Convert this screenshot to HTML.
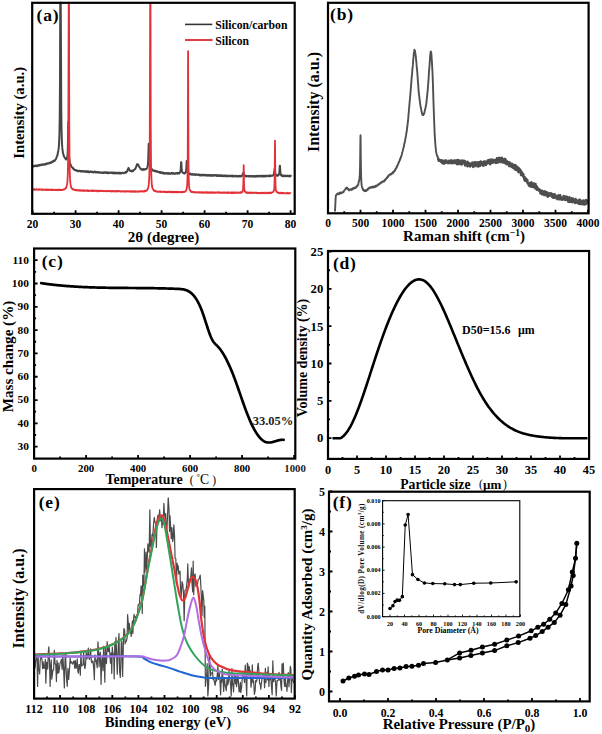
<!DOCTYPE html><html><head><meta charset="utf-8"><style>html,body{margin:0;padding:0;background:#fff;width:602px;height:734px;overflow:hidden;}svg{display:block;}text{font-family:"Liberation Serif",serif;}</style></head><body>
<svg width="602" height="734" viewBox="0 0 602 734">
<rect width="602" height="734" fill="#fff"/>
<path d="M33,166.26 L33.25,166.06 L33.5,166.47 L33.75,165.91 L34,166.28 L34.25,166.08 L34.5,165.76 L34.75,166.13 L35,165.66 L35.25,165.97 L35.5,165.6 L35.75,165.58 L36,165.83 L36.25,166.15 L36.5,165.48 L36.75,165.52 L37,165.84 L37.25,166.09 L37.5,165.71 L37.75,165.5 L38,165.98 L38.25,165.1 L38.5,165.78 L38.75,165.23 L39,165.05 L39.25,164.98 L39.5,165.11 L39.75,165.52 L40,164.91 L40.25,165.22 L40.5,165.23 L40.75,164.94 L41,165.06 L41.25,164.58 L41.5,164.53 L41.75,164.61 L42,164.99 L42.25,164.72 L42.5,164.57 L42.75,164.77 L43,164.6 L43.25,164.42 L43.5,164.82 L43.75,164.68 L44,164.23 L44.25,164.48 L44.5,164.38 L44.75,164.65 L45,164.47 L45.25,164 L45.5,164.56 L45.75,163.71 L46,163.91 L46.25,164.14 L46.5,163.52 L46.75,163.76 L47,163.28 L47.25,163.77 L47.5,163.78 L47.75,163.53 L48,163.73 L48.25,163.15 L48.5,163.41 L48.75,163.25 L49,163.15 L49.25,162.96 L49.5,163.23 L49.75,163.24 L50,162.73 L50.25,162.81 L50.5,162.18 L50.75,162.67 L51,162.53 L51.25,162.75 L51.5,162.5 L51.75,161.91 L52,161.9 L52.25,162.05 L52.5,161.36 L52.75,161.64 L53,161.26 L53.25,161.09 L53.5,160.9 L53.75,161.4 L54,160.68 L54.25,160.63 L54.5,160.6 L54.75,160.85 L55,159.94 L55.25,159.88 L55.5,159.55 L55.75,159.4 L56,158.87 L56.25,158.4 L56.5,157.32 L56.75,156.84 L57,156.12 L57.25,155.83 L57.5,155.03 L57.75,153.29 L58,152.11 L58.25,151 L58.5,149.45 L58.75,147.54 L59,144.54 L59.25,139.48 L59.5,131.24 L59.75,116.34 L60,81.53 L60.25,2.8 L60.43,2.8 L60.5,2.8 L60.55,2.8 L60.67,2.8 L60.75,2.8 L61,54.55 L61.25,106.81 L61.5,127.52 L61.75,137.91 L62,143.74 L62.25,147.17 L62.5,149.79 L62.75,151.42 L63,153.35 L63.25,153.97 L63.5,154.88 L63.75,155.75 L64,156.33 L64.25,157.01 L64.5,157.19 L64.75,157.56 L65,158.06 L65.25,158.32 L65.5,158.81 L65.75,158.7 L66,159.6 L66.25,159.42 L66.5,158.95 L66.75,158.82 L67,158.39 L67.25,157.34 L67.5,154.92 L67.75,150.61 L68,139.11 L68.17,126.61 L68.25,122.94 L68.29,122.11 L68.41,126.64 L68.5,133.5 L68.75,148.59 L69,156.19 L69.25,159 L69.5,160.79 L69.75,162.86 L70,163.37 L70.25,163.73 L70.5,164.67 L70.75,164.72 L71,165.64 L71.25,166.48 L71.5,166.79 L71.75,167.04 L72,167.03 L72.25,167.37 L72.5,167.43 L72.75,168.2 L73,168.21 L73.25,168.65 L73.5,168.47 L73.75,168.59 L74,169.33 L74.25,169.69 L74.5,169.78 L74.75,169.95 L75,170.16 L75.25,170.3 L75.5,170.04 L75.75,170.5 L76,170.55 L76.25,170.29 L76.5,170.31 L76.75,170.57 L77,170.57 L77.25,170.99 L77.5,171.25 L77.75,170.81 L78,171.28 L78.25,171.35 L78.5,171.34 L78.75,170.83 L79,170.72 L79.25,170.75 L79.5,170.74 L79.75,170.77 L80,171.17 L80.25,171.44 L80.5,171.41 L80.75,171.1 L81,171.28 L81.25,171.43 L81.5,170.81 L81.75,171.34 L82,171.59 L82.25,171.49 L82.5,171.48 L82.75,171.26 L83,171 L83.25,171.57 L83.5,171.18 L83.75,171.62 L84,171.79 L84.25,171.29 L84.5,171.31 L84.75,171.82 L85,171.64 L85.25,171.16 L85.5,171.14 L85.75,171.18 L86,171.87 L86.25,171.8 L86.5,171.23 L86.75,171.86 L87,172.01 L87.25,171.74 L87.5,171.48 L87.75,171.68 L88,171.32 L88.25,171.23 L88.5,172.11 L88.75,171.83 L89,171.74 L89.25,172.12 L89.5,171.69 L89.75,172.1 L90,172.08 L90.25,171.54 L90.5,171.59 L90.75,171.65 L91,171.62 L91.25,171.94 L91.5,171.67 L91.75,171.83 L92,171.58 L92.25,172.3 L92.5,171.82 L92.75,171.93 L93,172.06 L93.25,172.36 L93.5,171.94 L93.75,172.41 L94,172.05 L94.25,172.09 L94.5,172.1 L94.75,171.66 L95,172.06 L95.25,171.84 L95.5,171.7 L95.75,172.43 L96,171.88 L96.25,172.17 L96.5,172.41 L96.75,172.27 L97,172.08 L97.25,172.27 L97.5,172.32 L97.75,172.54 L98,171.95 L98.25,172.37 L98.5,172.11 L98.75,172.15 L99,172.61 L99.25,172.39 L99.5,172.45 L99.75,172.65 L100,172.8 L100.25,172.39 L100.5,172.55 L100.75,172.47 L101,172.48 L101.25,172.65 L101.5,172.45 L101.75,172.53 L102,172.49 L102.25,172.92 L102.5,172.71 L102.75,172.88 L103,172.95 L103.25,172.34 L103.5,172.62 L103.75,172.98 L104,172.9 L104.25,172.27 L104.5,172.27 L104.75,172.57 L105,172.24 L105.25,172.4 L105.5,172.26 L105.75,172.81 L106,172.92 L106.25,173.03 L106.5,172.37 L106.75,172.89 L107,172.85 L107.25,172.39 L107.5,173.07 L107.75,173.15 L108,172.49 L108.25,173.16 L108.5,172.67 L108.75,172.76 L109,173.22 L109.25,173.09 L109.5,172.49 L109.75,172.75 L110,172.83 L110.25,172.68 L110.5,172.56 L110.75,172.68 L111,173.05 L111.25,172.43 L111.5,172.92 L111.75,172.83 L112,172.45 L112.25,172.75 L112.5,173.02 L112.75,172.93 L113,172.53 L113.25,173.37 L113.5,173.2 L113.75,173.37 L114,172.6 L114.25,172.75 L114.5,172.56 L114.75,173.23 L115,172.78 L115.25,172.66 L115.5,172.93 L115.75,173.38 L116,173.31 L116.25,172.81 L116.5,172.72 L116.75,173.42 L117,173.11 L117.25,173.24 L117.5,172.69 L117.75,172.67 L118,173.24 L118.25,173.01 L118.5,172.7 L118.75,173.49 L119,173.22 L119.25,173.37 L119.5,172.73 L119.75,173.43 L120,172.72 L120.25,173.44 L120.5,173.08 L120.75,172.98 L121,173.17 L121.25,173.51 L121.5,172.91 L121.75,172.79 L122,173.14 L122.25,172.88 L122.5,172.76 L122.75,172.8 L123,172.69 L123.25,172.82 L123.5,172.91 L123.75,172.88 L124,173.27 L124.25,172.83 L124.5,172.99 L124.75,172.66 L125,172.77 L125.25,172.37 L125.5,172.46 L125.75,172.12 L126,172.61 L126.25,172.26 L126.5,171.71 L126.75,171.69 L127,171.75 L127.25,170.56 L127.5,170.64 L127.75,169.62 L128,168.95 L128.25,168.64 L128.5,167.97 L128.75,168.26 L129,168.94 L129.25,169.82 L129.5,169.79 L129.75,170.66 L130,170.86 L130.25,171.02 L130.5,170.96 L130.75,171 L131,170.79 L131.25,170.87 L131.5,170.82 L131.75,171.39 L132,170.91 L132.25,170.76 L132.5,170.61 L132.75,171.2 L133,171.12 L133.25,170.81 L133.5,170.31 L133.75,170.11 L134,169.96 L134.25,169.89 L134.5,169.37 L134.75,169.33 L135,168.84 L135.25,169.08 L135.5,168.65 L135.75,167.77 L136,166.94 L136.25,166.99 L136.5,165.77 L136.75,165.21 L137,164.36 L137.25,164.33 L137.5,164.24 L137.75,164.32 L138,164.31 L138.25,165.01 L138.5,165.07 L138.75,165.85 L139,166.21 L139.25,166.97 L139.5,167.08 L139.75,167.43 L140,167.99 L140.25,168.2 L140.5,168.74 L140.75,168.87 L141,169.22 L141.25,169.26 L141.5,169.41 L141.75,169.64 L142,169.26 L142.25,169.25 L142.5,169.88 L142.75,169.15 L143,169.68 L143.25,169.61 L143.5,169.06 L143.75,169.76 L144,169.79 L144.25,169.51 L144.5,169.57 L144.75,169.58 L145,168.91 L145.25,169.18 L145.5,169.07 L145.75,169.25 L146,169.09 L146.25,168.94 L146.5,168.52 L146.75,168.53 L147,167.98 L147.25,167.58 L147.5,166.52 L147.75,165.25 L148,163.29 L148.25,159.11 L148.5,149.58 L148.58,146.71 L148.7,143.74 L148.75,144.26 L148.82,146.3 L149,153.98 L149.25,160.55 L149.5,163.08 L149.75,165.3 L150,166.21 L150.25,166.72 L150.5,167.36 L150.75,167.99 L151,167.91 L151.25,168.9 L151.5,168.79 L151.75,168.91 L152,169.33 L152.25,169.96 L152.5,169.67 L152.75,170.31 L153,170.67 L153.25,170.37 L153.5,170.39 L153.75,170.59 L154,170.87 L154.25,171.04 L154.5,170.99 L154.75,171.1 L155,170.67 L155.25,170.81 L155.5,170.99 L155.75,171.5 L156,171.18 L156.25,171.48 L156.5,171.05 L156.75,171.16 L157,171.41 L157.25,171.84 L157.5,171.92 L157.75,171.96 L158,171.68 L158.25,171.94 L158.5,171.95 L158.75,172.01 L159,171.76 L159.25,172.51 L159.5,171.95 L159.75,172.7 L160,172.72 L160.25,171.95 L160.5,172.4 L160.75,172.78 L161,172.97 L161.25,172.56 L161.5,172.45 L161.75,172.45 L162,173.17 L162.25,172.56 L162.5,172.95 L162.75,172.6 L163,173 L163.25,173.44 L163.5,172.75 L163.75,173.42 L164,173.2 L164.25,173.59 L164.5,173.48 L164.75,173.1 L165,173.76 L165.25,173.39 L165.5,172.97 L165.75,172.96 L166,173.4 L166.25,173.36 L166.5,173.23 L166.75,173.09 L167,173.27 L167.25,173.25 L167.5,173.72 L167.75,172.96 L168,173.64 L168.25,173.72 L168.5,173.07 L168.75,173.8 L169,173.61 L169.25,173.78 L169.5,173.23 L169.75,173.3 L170,173.32 L170.25,173.87 L170.5,173.5 L170.75,173.29 L171,173.35 L171.25,173.22 L171.5,173.01 L171.75,173.06 L172,173.72 L172.25,173.22 L172.5,173.81 L172.75,173.19 L173,173.2 L173.25,173.42 L173.5,173.13 L173.75,173.3 L174,173.82 L174.25,173.75 L174.5,173.68 L174.75,173.52 L175,173.77 L175.25,173.79 L175.5,173.43 L175.75,173.58 L176,172.97 L176.25,173.58 L176.5,173.32 L176.75,173.58 L177,173.47 L177.25,173.14 L177.5,172.91 L177.75,173.68 L178,172.94 L178.25,173.22 L178.5,173.06 L178.75,172.97 L179,173.3 L179.25,173.43 L179.5,172.65 L179.75,172.81 L180,172.17 L180.25,171.88 L180.5,170.71 L180.75,168.38 L181,164.26 L181.09,162.73 L181.21,162.36 L181.25,162.13 L181.33,162.76 L181.5,166.55 L181.75,170.09 L182,171.27 L182.25,171.82 L182.5,172.33 L182.75,172.51 L183,172.9 L183.25,172.79 L183.5,173 L183.75,173.06 L184,173.37 L184.25,173.65 L184.5,173.51 L184.75,173.15 L185,173.05 L185.25,172.98 L185.5,172.55 L185.75,172 L186,170.75 L186.25,168.87 L186.5,165.26 L186.63,161.72 L186.75,160.93 L186.75,161.04 L186.88,162.4 L187,164.41 L187.25,168.83 L187.5,171.01 L187.75,172.22 L188,172.84 L188.25,173.65 L188.5,173.79 L188.75,173.97 L189,173.32 L189.25,173.42 L189.5,174.1 L189.75,174.33 L190,174 L190.25,174.15 L190.5,173.66 L190.75,174.05 L191,174.56 L191.25,174.5 L191.5,174.56 L191.75,174.69 L192,174.07 L192.25,173.97 L192.5,174.03 L192.75,174.39 L193,174.56 L193.25,174.81 L193.5,174.64 L193.75,174.59 L194,174.72 L194.25,174.47 L194.5,174.57 L194.75,174.13 L195,174.82 L195.25,174.35 L195.5,174.99 L195.75,174.76 L196,174.47 L196.25,174.34 L196.5,174.47 L196.75,174.83 L197,174.91 L197.25,174.4 L197.5,174.38 L197.75,174.81 L198,174.89 L198.25,174.73 L198.5,174.6 L198.75,174.96 L199,174.45 L199.25,174.73 L199.5,174.89 L199.75,175.36 L200,175.1 L200.25,175.32 L200.5,174.96 L200.75,174.75 L201,174.77 L201.25,175.43 L201.5,175.2 L201.75,174.86 L202,174.61 L202.25,175.05 L202.5,175.21 L202.75,174.99 L203,174.85 L203.25,175.23 L203.5,175.47 L203.75,174.85 L204,174.69 L204.25,174.97 L204.5,175.05 L204.75,175.3 L205,174.87 L205.25,175.42 L205.5,175.37 L205.75,175.17 L206,174.91 L206.25,175.61 L206.5,175.02 L206.75,175.49 L207,174.97 L207.25,174.97 L207.5,175.46 L207.75,175.05 L208,175.65 L208.25,175.25 L208.5,174.98 L208.75,175.02 L209,175.2 L209.25,175.44 L209.5,175.7 L209.75,174.99 L210,175.22 L210.25,175.06 L210.5,175.76 L210.75,175.02 L211,174.94 L211.25,174.96 L211.5,175.27 L211.75,175.73 L212,175.73 L212.25,175.6 L212.5,175.85 L212.75,175.79 L213,175.26 L213.25,175.14 L213.5,175.82 L213.75,175.66 L214,175.03 L214.25,175.6 L214.5,175.36 L214.75,175.36 L215,175.33 L215.25,175.19 L215.5,175.05 L215.75,175.31 L216,175.38 L216.25,175.93 L216.5,175.19 L216.75,175.96 L217,175.29 L217.25,175.43 L217.5,175.86 L217.75,175.86 L218,175.52 L218.25,175.18 L218.5,175.58 L218.75,175.49 L219,175.99 L219.25,175.35 L219.5,175.51 L219.75,176 L220,175.23 L220.25,175.58 L220.5,175.95 L220.75,175.91 L221,175.27 L221.25,175.27 L221.5,175.31 L221.75,176.09 L222,175.5 L222.25,175.95 L222.5,176.09 L222.75,175.6 L223,175.54 L223.25,176.17 L223.5,175.87 L223.75,175.56 L224,175.98 L224.25,175.62 L224.5,175.6 L224.75,175.36 L225,176.04 L225.25,176.2 L225.5,175.95 L225.75,176.24 L226,175.42 L226.25,175.62 L226.5,175.84 L226.75,176.28 L227,176.29 L227.25,175.79 L227.5,175.67 L227.75,175.84 L228,175.91 L228.25,176.3 L228.5,175.64 L228.75,176.21 L229,176.16 L229.25,176.24 L229.5,176.21 L229.75,176.06 L230,175.82 L230.25,175.82 L230.5,175.87 L230.75,176.25 L231,175.63 L231.25,175.74 L231.5,176.25 L231.75,175.8 L232,175.65 L232.25,175.62 L232.5,176.1 L232.75,175.9 L233,176.5 L233.25,176.42 L233.5,176.52 L233.75,175.88 L234,175.72 L234.25,175.74 L234.5,176.11 L234.75,176.3 L235,176.07 L235.25,175.89 L235.5,176.06 L235.75,176.25 L236,176.3 L236.25,176.37 L236.5,176.47 L236.75,176.31 L237,175.82 L237.25,176.47 L237.5,175.98 L237.75,176.23 L238,176.06 L238.25,176.39 L238.5,175.9 L238.75,175.94 L239,175.94 L239.25,175.85 L239.5,176.5 L239.75,176.21 L240,175.97 L240.25,176.01 L240.5,176.52 L240.75,176.05 L241,175.75 L241.25,176.2 L241.5,175.97 L241.75,176.15 L242,175.18 L242.25,175.27 L242.5,175.23 L242.75,174.77 L243,174.22 L243.25,172.82 L243.5,172.76 L243.75,172.85 L244,173.52 L244.25,174.87 L244.5,175.03 L244.75,175.73 L245,175.5 L245.25,176.12 L245.5,175.88 L245.75,175.81 L246,176.35 L246.25,176.55 L246.5,175.84 L246.75,176.31 L247,176.36 L247.25,176.01 L247.5,176.17 L247.75,175.97 L248,176.04 L248.25,176.09 L248.5,176.41 L248.75,176.46 L249,176.06 L249.25,175.89 L249.5,176.17 L249.75,176.49 L250,176.05 L250.25,176.16 L250.5,176.06 L250.75,176.59 L251,176.37 L251.25,175.93 L251.5,175.96 L251.75,176.22 L252,176.36 L252.25,176.44 L252.5,175.94 L252.75,176 L253,176.48 L253.25,176.22 L253.5,176.1 L253.75,176.12 L254,176.69 L254.25,176.11 L254.5,176.34 L254.75,176.14 L255,176.19 L255.25,176.59 L255.5,176.71 L255.75,176.13 L256,175.98 L256.25,176.45 L256.5,175.98 L256.75,175.79 L257,176.59 L257.25,176.16 L257.5,176.51 L257.75,176.13 L258,176.56 L258.25,176.17 L258.5,175.9 L258.75,175.76 L259,176.24 L259.25,176.32 L259.5,176.55 L259.75,175.81 L260,176.28 L260.25,176.05 L260.5,176.17 L260.75,175.84 L261,175.96 L261.25,176.17 L261.5,176.53 L261.75,175.79 L262,176.12 L262.25,176.4 L262.5,176.54 L262.75,175.84 L263,175.78 L263.25,176.51 L263.5,176.53 L263.75,176.08 L264,175.69 L264.25,176.47 L264.5,175.98 L264.75,176.44 L265,176.18 L265.25,176.35 L265.5,175.75 L265.75,176.31 L266,175.79 L266.25,175.95 L266.5,176.34 L266.75,176.32 L267,175.73 L267.25,175.76 L267.5,175.91 L267.75,176.01 L268,175.88 L268.25,175.64 L268.5,175.74 L268.75,176.16 L269,176.31 L269.25,175.53 L269.5,175.99 L269.75,176.15 L270,175.49 L270.25,176.21 L270.5,175.55 L270.75,175.97 L271,175.91 L271.25,175.96 L271.5,175.65 L271.75,175.73 L272,175.84 L272.25,175.66 L272.5,175.81 L272.75,175.54 L273,175.42 L273.25,174.87 L273.5,175.14 L273.75,174.56 L274,173.47 L274.25,172.27 L274.5,169.5 L274.75,168.05 L275,170.38 L275.25,172.93 L275.5,173.8 L275.75,174.44 L276,175.05 L276.25,174.94 L276.5,175.38 L276.75,175.51 L277,175.13 L277.25,175.68 L277.5,175.17 L277.75,175.72 L278,175.69 L278.25,175.34 L278.5,174.74 L278.75,174.83 L279,174.15 L279.25,173.54 L279.5,170.43 L279.75,167.02 L279.77,166.8 L279.89,165.65 L280,166.47 L280.01,166.09 L280.25,170.71 L280.5,172.91 L280.75,174.59 L281,175.19 L281.25,174.87 L281.5,175.65 L281.75,175.92 L282,175.23 L282.25,175.56 L282.5,175.97 L282.75,175.48 L283,176.17 L283.25,175.63 L283.5,176.14 L283.75,175.55 L284,175.89 L284.25,176.27 L284.5,175.64 L284.75,175.7 L285,175.93 L285.25,175.76 L285.5,175.52 L285.75,175.65 L286,175.64 L286.25,176.34 L286.5,176.11 L286.75,176.31 L287,175.66 L287.25,176.21 L287.5,175.61 L287.75,175.99 L288,176.09 L288.25,175.84 L288.5,176.3 L288.75,176.02 L289,176.04 L289.25,176.31 L289.5,175.62 L289.75,176.42 L290,176.09 L290.25,175.88 L290.5,176.24 L290.75,175.76 L291,176.42" fill="none" stroke="#454545" stroke-width="2" stroke-linejoin="round"/>
<path d="M33,189.54 L33.25,189.39 L33.5,189.68 L33.75,189.46 L34,189.28 L34.25,189.68 L34.5,189.2 L34.75,189.75 L35,189.35 L35.25,189.63 L35.5,189.88 L35.75,189.6 L36,189.66 L36.25,189.42 L36.5,189.21 L36.75,189.24 L37,189.33 L37.25,189.66 L37.5,189.53 L37.75,189.6 L38,189.87 L38.25,189.34 L38.5,189.41 L38.75,189.72 L39,189.28 L39.25,189.27 L39.5,189.52 L39.75,189.35 L40,189.53 L40.25,189.45 L40.5,189.7 L40.75,189.71 L41,189.45 L41.25,189.75 L41.5,189.65 L41.75,189.42 L42,189.98 L42.25,189.5 L42.5,189.44 L42.75,189.41 L43,189.79 L43.25,189.96 L43.5,189.9 L43.75,189.64 L44,189.55 L44.25,189.38 L44.5,189.83 L44.75,189.78 L45,189.63 L45.25,189.84 L45.5,189.71 L45.75,190.06 L46,189.92 L46.25,189.59 L46.5,190.05 L46.75,189.45 L47,189.8 L47.25,189.72 L47.5,189.6 L47.75,189.48 L48,189.99 L48.25,189.46 L48.5,189.84 L48.75,190.12 L49,189.56 L49.25,189.61 L49.5,189.9 L49.75,189.83 L50,189.93 L50.25,190.05 L50.5,189.61 L50.75,189.71 L51,189.71 L51.25,189.54 L51.5,190.13 L51.75,190.06 L52,190.01 L52.25,189.52 L52.5,190.11 L52.75,190.05 L53,189.85 L53.25,190.05 L53.5,189.85 L53.75,189.69 L54,189.61 L54.25,189.7 L54.5,189.57 L54.75,189.78 L55,190.07 L55.25,190.04 L55.5,190.15 L55.75,190.05 L56,189.74 L56.25,189.95 L56.5,189.87 L56.75,190.11 L57,189.93 L57.25,189.75 L57.5,190.01 L57.75,190.24 L58,189.71 L58.25,190.18 L58.5,189.57 L58.75,189.74 L59,189.72 L59.25,190.07 L59.5,190.21 L59.75,190.06 L60,189.76 L60.25,190.14 L60.5,189.74 L60.75,189.67 L61,190.13 L61.25,189.92 L61.5,189.95 L61.75,189.91 L62,190.11 L62.25,189.72 L62.5,189.95 L62.75,189.82 L63,189.9 L63.25,189.56 L63.5,189.71 L63.75,189.54 L64,189.28 L64.25,189.13 L64.5,189.32 L64.75,188.82 L65,189.26 L65.25,188.55 L65.5,188.25 L65.75,188.03 L66,188.25 L66.25,187.38 L66.5,186.63 L66.75,185.7 L67,184.51 L67.25,183.18 L67.5,180.3 L67.75,175.47 L68,166.03 L68.25,143.28 L68.5,71.7 L68.69,2.8 L68.75,2.8 L68.81,2.8 L68.93,2.8 L69,2.8 L69.25,122.82 L69.5,158.77 L69.75,172.28 L70,178.15 L70.25,181.81 L70.5,183.94 L70.75,185.32 L71,186.89 L71.25,187.58 L71.5,187.99 L71.75,188.53 L72,188.71 L72.25,188.73 L72.5,188.8 L72.75,188.97 L73,189.57 L73.25,189.31 L73.5,189.49 L73.75,189.65 L74,189.45 L74.25,189.68 L74.5,189.76 L74.75,190.11 L75,189.92 L75.25,189.93 L75.5,190.41 L75.75,190.13 L76,190.4 L76.25,190.27 L76.5,189.88 L76.75,190.17 L77,190.21 L77.25,190.47 L77.5,190.19 L77.75,190.46 L78,190.36 L78.25,190.15 L78.5,190.61 L78.75,190.09 L79,190.61 L79.25,190.17 L79.5,190.07 L79.75,190.22 L80,190.62 L80.25,190.78 L80.5,190.11 L80.75,190.46 L81,190.47 L81.25,190.7 L81.5,190.28 L81.75,190.5 L82,190.41 L82.25,190.76 L82.5,190.36 L82.75,190.85 L83,190.4 L83.25,190.36 L83.5,190.7 L83.75,190.57 L84,190.3 L84.25,190.68 L84.5,190.3 L84.75,190.8 L85,190.74 L85.25,190.81 L85.5,190.71 L85.75,190.52 L86,190.56 L86.25,190.56 L86.5,190.92 L86.75,190.36 L87,190.93 L87.25,190.33 L87.5,190.46 L87.75,190.51 L88,190.96 L88.25,190.69 L88.5,190.61 L88.75,190.97 L89,190.52 L89.25,190.68 L89.5,190.74 L89.75,190.9 L90,190.9 L90.25,190.83 L90.5,190.63 L90.75,190.62 L91,190.51 L91.25,190.99 L91.5,190.87 L91.75,190.93 L92,190.54 L92.25,190.73 L92.5,190.97 L92.75,190.84 L93,190.53 L93.25,190.77 L93.5,191.07 L93.75,190.62 L94,190.59 L94.25,190.68 L94.5,190.96 L94.75,191.06 L95,190.59 L95.25,190.59 L95.5,190.66 L95.75,190.72 L96,190.86 L96.25,190.62 L96.5,190.74 L96.75,190.65 L97,191.2 L97.25,191.03 L97.5,190.6 L97.75,191.21 L98,190.61 L98.25,190.81 L98.5,191.24 L98.75,191.11 L99,191.07 L99.25,190.87 L99.5,190.7 L99.75,191.02 L100,190.65 L100.25,190.73 L100.5,190.86 L100.75,190.61 L101,190.88 L101.25,191.15 L101.5,191.09 L101.75,190.96 L102,191.06 L102.25,190.94 L102.5,190.72 L102.75,191.05 L103,190.92 L103.25,191.16 L103.5,191.28 L103.75,190.95 L104,191.05 L104.25,191.18 L104.5,190.96 L104.75,190.83 L105,191.18 L105.25,191.29 L105.5,191.22 L105.75,191.17 L106,191.29 L106.25,191.17 L106.5,191.15 L106.75,191.02 L107,190.93 L107.25,191.15 L107.5,190.79 L107.75,191.02 L108,191.27 L108.25,191.23 L108.5,191.18 L108.75,190.91 L109,191.04 L109.25,191.07 L109.5,191.19 L109.75,191.04 L110,191.23 L110.25,191.42 L110.5,190.9 L110.75,191.23 L111,191.33 L111.25,191.06 L111.5,191.13 L111.75,191.48 L112,190.83 L112.25,191.18 L112.5,190.92 L112.75,191.36 L113,191.47 L113.25,191.18 L113.5,190.9 L113.75,191.23 L114,191.21 L114.25,191.34 L114.5,191.2 L114.75,191.29 L115,191.43 L115.25,191.22 L115.5,191.15 L115.75,191.53 L116,191.02 L116.25,191.35 L116.5,191.15 L116.75,191.42 L117,190.97 L117.25,191.58 L117.5,191.14 L117.75,190.94 L118,191.1 L118.25,191.19 L118.5,190.92 L118.75,191.21 L119,191.22 L119.25,191.41 L119.5,191.18 L119.75,191.12 L120,191.1 L120.25,191.46 L120.5,191.61 L120.75,191.32 L121,191.11 L121.25,191.52 L121.5,191.24 L121.75,191.12 L122,191.06 L122.25,191.52 L122.5,191.55 L122.75,191.43 L123,191.32 L123.25,191.39 L123.5,191.16 L123.75,191.68 L124,191.25 L124.25,191.46 L124.5,191.59 L124.75,191.59 L125,191.35 L125.25,191.23 L125.5,191.41 L125.75,191.12 L126,191.62 L126.25,191.29 L126.5,191.64 L126.75,191.24 L127,191.32 L127.25,191.23 L127.5,191.36 L127.75,191.19 L128,191.07 L128.25,191.58 L128.5,191.27 L128.75,191.25 L129,191.29 L129.25,191.42 L129.5,191.39 L129.75,191.54 L130,191.56 L130.25,191.35 L130.5,191.75 L130.75,191.7 L131,191.15 L131.25,191.69 L131.5,191.75 L131.75,191.66 L132,191.21 L132.25,191.7 L132.5,191.56 L132.75,191.13 L133,191.13 L133.25,191.79 L133.5,191.59 L133.75,191.3 L134,191.2 L134.25,191.23 L134.5,191.3 L134.75,191.68 L135,191.38 L135.25,191.24 L135.5,191.77 L135.75,191.69 L136,191.25 L136.25,191.76 L136.5,191.56 L136.75,191.68 L137,191.6 L137.25,191.76 L137.5,191.69 L137.75,191.72 L138,191.27 L138.25,191.62 L138.5,191.5 L138.75,191.65 L139,191.43 L139.25,191.74 L139.5,191.51 L139.75,191.3 L140,191.27 L140.25,191.2 L140.5,191.44 L140.75,191.13 L141,191.41 L141.25,191.18 L141.5,191.41 L141.75,191.4 L142,191.42 L142.25,191.63 L142.5,191.02 L142.75,191.59 L143,191.31 L143.25,191.35 L143.5,191.4 L143.75,191.49 L144,191.13 L144.25,191.13 L144.5,191.47 L144.75,190.8 L145,191.14 L145.25,191.08 L145.5,190.58 L145.75,190.9 L146,190.84 L146.25,190.89 L146.5,190.32 L146.75,190.6 L147,190.04 L147.25,189.74 L147.5,189.67 L147.75,188.6 L148,188.45 L148.25,187.52 L148.5,186.09 L148.75,184.62 L149,181.34 L149.25,176.36 L149.5,166.49 L149.75,143.01 L150,64.45 L150.17,2.8 L150.25,2.8 L150.29,2.8 L150.41,2.8 L150.5,2.8 L150.75,127.76 L151,161.02 L151.25,173.92 L151.5,179.97 L151.75,183.6 L152,186.06 L152.25,187.24 L152.5,188.31 L152.75,188.69 L153,189.2 L153.25,189.59 L153.5,190.1 L153.75,190.39 L154,190.69 L154.25,190.34 L154.5,190.95 L154.75,191.18 L155,191.04 L155.25,190.78 L155.5,191.03 L155.75,190.89 L156,191.07 L156.25,191.64 L156.5,191.46 L156.75,191.54 L157,191.66 L157.25,191.78 L157.5,191.6 L157.75,191.63 L158,191.66 L158.25,191.74 L158.5,191.69 L158.75,191.77 L159,191.46 L159.25,191.79 L159.5,191.66 L159.75,191.89 L160,191.44 L160.25,191.51 L160.5,191.42 L160.75,191.95 L161,192.06 L161.25,191.89 L161.5,191.7 L161.75,192.02 L162,192.01 L162.25,191.86 L162.5,191.66 L162.75,191.69 L163,191.79 L163.25,191.72 L163.5,191.81 L163.75,191.96 L164,192.17 L164.25,191.57 L164.5,191.93 L164.75,191.57 L165,191.63 L165.25,192.12 L165.5,191.96 L165.75,192.21 L166,191.88 L166.25,191.59 L166.5,191.85 L166.75,192 L167,192.25 L167.25,192.28 L167.5,191.93 L167.75,191.9 L168,191.68 L168.25,192.07 L168.5,191.77 L168.75,191.73 L169,191.64 L169.25,191.64 L169.5,192.12 L169.75,191.73 L170,192.32 L170.25,191.71 L170.5,192.26 L170.75,191.75 L171,191.68 L171.25,192.17 L171.5,191.84 L171.75,192.19 L172,191.81 L172.25,191.72 L172.5,192.23 L172.75,192.19 L173,192.29 L173.25,192.21 L173.5,191.76 L173.75,192.14 L174,192.2 L174.25,192.03 L174.5,192.36 L174.75,191.89 L175,192.39 L175.25,192.22 L175.5,191.73 L175.75,191.73 L176,192.18 L176.25,192.3 L176.5,191.78 L176.75,191.95 L177,192.24 L177.25,191.85 L177.5,192.33 L177.75,192.07 L178,191.77 L178.25,191.99 L178.5,192.14 L178.75,192.04 L179,192.21 L179.25,191.83 L179.5,192.29 L179.75,191.98 L180,192.17 L180.25,192.16 L180.5,192.01 L180.75,191.98 L181,192.25 L181.25,192.36 L181.5,192.24 L181.75,192.07 L182,191.87 L182.25,191.69 L182.5,192.32 L182.75,192.11 L183,192.17 L183.25,191.8 L183.5,191.96 L183.75,192.18 L184,192.03 L184.25,191.81 L184.5,191.54 L184.75,191.53 L185,191.75 L185.25,191.25 L185.5,191.29 L185.75,190.99 L186,190.88 L186.25,190.36 L186.5,189.33 L186.75,188.09 L187,186.55 L187.25,183.47 L187.5,176.5 L187.75,155.43 L187.97,89.48 L188,74.18 L188.09,51.05 L188.21,89.43 L188.25,108.06 L188.5,164.58 L188.75,179.11 L189,184.98 L189.25,187.58 L189.5,188.97 L189.75,190.04 L190,190.25 L190.25,190.48 L190.5,191.11 L190.75,191.51 L191,191.26 L191.25,191.78 L191.5,192.02 L191.75,191.62 L192,191.95 L192.25,192.06 L192.5,191.96 L192.75,191.83 L193,191.9 L193.25,192.28 L193.5,192.34 L193.75,192.13 L194,191.89 L194.25,192.42 L194.5,192.41 L194.75,192.05 L195,192.31 L195.25,192.55 L195.5,192.55 L195.75,192.31 L196,192.29 L196.25,192.38 L196.5,192.11 L196.75,192.12 L197,192.12 L197.25,192.5 L197.5,192.27 L197.75,192.42 L198,192.31 L198.25,192.4 L198.5,192.15 L198.75,192.08 L199,192.76 L199.25,192.33 L199.5,192.15 L199.75,192.52 L200,192.64 L200.25,192.2 L200.5,192.51 L200.75,192.34 L201,192.46 L201.25,192.12 L201.5,192.13 L201.75,192.81 L202,192.72 L202.25,192.46 L202.5,192.52 L202.75,192.31 L203,192.67 L203.25,192.43 L203.5,192.8 L203.75,192.67 L204,192.71 L204.25,192.82 L204.5,192.32 L204.75,192.18 L205,192.29 L205.25,192.28 L205.5,192.22 L205.75,192.2 L206,192.55 L206.25,192.77 L206.5,192.49 L206.75,192.83 L207,192.81 L207.25,192.22 L207.5,192.6 L207.75,192.46 L208,192.27 L208.25,192.86 L208.5,192.37 L208.75,192.59 L209,192.64 L209.25,192.86 L209.5,192.67 L209.75,192.47 L210,192.52 L210.25,192.32 L210.5,192.88 L210.75,192.9 L211,192.37 L211.25,192.24 L211.5,192.39 L211.75,192.46 L212,192.85 L212.25,192.86 L212.5,192.81 L212.75,192.26 L213,192.78 L213.25,192.73 L213.5,192.69 L213.75,192.92 L214,192.28 L214.25,192.34 L214.5,192.77 L214.75,192.9 L215,192.72 L215.25,192.46 L215.5,192.66 L215.75,192.78 L216,192.33 L216.25,192.48 L216.5,192.44 L216.75,192.35 L217,192.6 L217.25,192.38 L217.5,192.43 L217.75,192.37 L218,192.74 L218.25,192.28 L218.5,192.78 L218.75,192.41 L219,192.3 L219.25,192.93 L219.5,192.44 L219.75,192.94 L220,192.89 L220.25,192.91 L220.5,192.39 L220.75,192.61 L221,192.36 L221.25,192.95 L221.5,192.89 L221.75,192.74 L222,192.62 L222.25,192.54 L222.5,192.88 L222.75,192.64 L223,192.75 L223.25,192.41 L223.5,192.47 L223.75,192.35 L224,192.82 L224.25,192.71 L224.5,192.42 L224.75,192.93 L225,192.51 L225.25,192.61 L225.5,192.44 L225.75,192.52 L226,192.92 L226.25,192.57 L226.5,192.45 L226.75,192.68 L227,192.56 L227.25,192.97 L227.5,192.42 L227.75,193.03 L228,192.39 L228.25,192.97 L228.5,192.82 L228.75,192.5 L229,192.69 L229.25,192.55 L229.5,192.54 L229.75,192.5 L230,192.61 L230.25,193.05 L230.5,193.06 L230.75,193.01 L231,192.43 L231.25,192.57 L231.5,192.99 L231.75,192.41 L232,192.88 L232.25,192.58 L232.5,193.06 L232.75,192.38 L233,192.94 L233.25,192.61 L233.5,192.47 L233.75,192.38 L234,192.96 L234.25,192.75 L234.5,192.51 L234.75,192.68 L235,193.02 L235.25,192.53 L235.5,192.78 L235.75,192.48 L236,192.51 L236.25,192.92 L236.5,192.88 L236.75,192.51 L237,192.43 L237.25,192.43 L237.5,192.8 L237.75,192.71 L238,192.55 L238.25,192.5 L238.5,192.78 L238.75,192.84 L239,192.91 L239.25,192.74 L239.5,192.46 L239.75,192.35 L240,192.8 L240.25,192.55 L240.5,192.74 L240.75,192.24 L241,192.72 L241.25,192.33 L241.5,192.6 L241.75,192.5 L242,192.08 L242.25,191.51 L242.5,191.76 L242.75,190.82 L243,189.85 L243.25,186.4 L243.5,176.37 L243.57,171.76 L243.69,165.23 L243.75,167.16 L243.81,171.44 L244,183.24 L244.25,188.13 L244.5,190.36 L244.75,191.18 L245,191.72 L245.25,191.74 L245.5,192.35 L245.75,192.56 L246,192.7 L246.25,192.39 L246.5,192.72 L246.75,192.53 L247,192.82 L247.25,192.37 L247.5,192.96 L247.75,193.04 L248,192.73 L248.25,192.76 L248.5,192.79 L248.75,192.8 L249,192.45 L249.25,193.12 L249.5,192.61 L249.75,192.59 L250,192.54 L250.25,192.65 L250.5,193.05 L250.75,192.5 L251,192.56 L251.25,192.98 L251.5,192.63 L251.75,192.51 L252,192.93 L252.25,192.91 L252.5,192.88 L252.75,193.01 L253,192.59 L253.25,193.13 L253.5,193.03 L253.75,192.56 L254,192.62 L254.25,192.88 L254.5,192.89 L254.75,192.73 L255,192.63 L255.25,192.83 L255.5,192.64 L255.75,192.96 L256,193.15 L256.25,192.66 L256.5,192.96 L256.75,193.08 L257,192.68 L257.25,193.14 L257.5,193.22 L257.75,192.84 L258,192.86 L258.25,193.16 L258.5,192.94 L258.75,192.85 L259,193.23 L259.25,193.12 L259.5,192.82 L259.75,192.75 L260,192.82 L260.25,192.89 L260.5,193.27 L260.75,193.15 L261,193.23 L261.25,193.16 L261.5,193.19 L261.75,192.63 L262,192.96 L262.25,193.27 L262.5,193.25 L262.75,192.77 L263,192.89 L263.25,193.04 L263.5,192.86 L263.75,192.97 L264,192.65 L264.25,192.91 L264.5,192.96 L264.75,192.62 L265,192.7 L265.25,193.28 L265.5,193.15 L265.75,193.26 L266,193.05 L266.25,193.17 L266.5,193.22 L266.75,193.22 L267,192.62 L267.25,193.05 L267.5,192.78 L267.75,193.07 L268,192.78 L268.25,192.97 L268.5,193.23 L268.75,193.01 L269,192.75 L269.25,192.93 L269.5,192.86 L269.75,193.21 L270,192.74 L270.25,192.74 L270.5,192.96 L270.75,192.57 L271,192.88 L271.25,193.1 L271.5,192.76 L271.75,192.54 L272,192.63 L272.25,192.6 L272.5,192.24 L272.75,192.1 L273,191.94 L273.25,191.81 L273.5,191.54 L273.75,190.92 L274,189.97 L274.25,188.15 L274.5,184.49 L274.75,171.39 L274.87,154.58 L274.99,140.62 L275,140.79 L275.11,154.3 L275.25,173.02 L275.5,184.88 L275.75,188.65 L276,190.33 L276.25,191.11 L276.5,191.53 L276.75,191.83 L277,192.05 L277.25,192.42 L277.5,192.45 L277.75,192.69 L278,192.36 L278.25,192.66 L278.5,193.06 L278.75,192.66 L279,192.92 L279.25,192.9 L279.5,192.78 L279.75,193.29 L280,192.82 L280.25,193.17 L280.5,192.76 L280.75,192.7 L281,193.28 L281.25,192.98 L281.5,192.73 L281.75,192.97 L282,193.01 L282.25,193.22 L282.5,192.79 L282.75,192.88 L283,193.4 L283.25,193.25 L283.5,192.85 L283.75,192.98 L284,192.99 L284.25,193.22 L284.5,193.19 L284.75,193.35 L285,193.34 L285.25,193.13 L285.5,193.29 L285.75,193.29 L286,193.31 L286.25,193.11 L286.5,193.33 L286.75,193.28 L287,193.43 L287.25,192.88 L287.5,193.41 L287.75,192.8 L288,193.34 L288.25,193.21 L288.5,193.16 L288.75,193.48 L289,193.21 L289.25,193.11 L289.5,193.37 L289.75,193.43 L290,193.25 L290.25,193.09 L290.5,193.14 L290.75,193.15 L291,193.34" fill="none" stroke="#e3313a" stroke-width="1.8" stroke-linejoin="round"/>
<rect x="32.2" y="2.8" width="262.5" height="211" fill="none" stroke="#000" stroke-width="2.2"/>
<path d="M32.6,213.8 V210.3 M75.6,213.8 V210.3 M118.6,213.8 V210.3 M161.6,213.8 V210.3 M204.6,213.8 V210.3 M247.6,213.8 V210.3 M290.6,213.8 V210.3 M54.1,213.8 V211.8 M97.1,213.8 V211.8 M140.1,213.8 V211.8 M183.1,213.8 V211.8 M226.1,213.8 V211.8 M269.1,213.8 V211.8 " stroke="#000" stroke-width="1.8" fill="none"/>
<text x="32.6" y="228" font-size="11.5" text-anchor="middle" font-weight="bold" fill="#000">20</text>
<text x="75.6" y="228" font-size="11.5" text-anchor="middle" font-weight="bold" fill="#000">30</text>
<text x="118.6" y="228" font-size="11.5" text-anchor="middle" font-weight="bold" fill="#000">40</text>
<text x="161.6" y="228" font-size="11.5" text-anchor="middle" font-weight="bold" fill="#000">50</text>
<text x="204.6" y="228" font-size="11.5" text-anchor="middle" font-weight="bold" fill="#000">60</text>
<text x="247.6" y="228" font-size="11.5" text-anchor="middle" font-weight="bold" fill="#000">70</text>
<text x="290.6" y="228" font-size="11.5" text-anchor="middle" font-weight="bold" fill="#000">80</text>
<text x="163.5" y="242" font-size="15" text-anchor="middle" font-weight="bold" fill="#000">2θ (degree)</text>
<text x="24.1" y="112.8" font-size="14.7" text-anchor="middle" font-weight="bold" fill="#000" transform="rotate(-90 24.1 112.8)">Intensity (a.u.)</text>
<text x="36.5" y="21.1" font-size="17.5" text-anchor="start" font-weight="bold" fill="#000" letter-spacing="0.8">(a)</text>
<path d="M185,24.4 H212.3" stroke="#333" stroke-width="1.6"/>
<path d="M185,40 H212.6" stroke="#e0353b" stroke-width="1.9"/>
<text x="215.3" y="28.8" font-size="11.7" text-anchor="start" font-weight="bold" fill="#000">Silicon/carbon</text>
<text x="215.3" y="44.5" font-size="11.7" text-anchor="start" font-weight="bold" fill="#000">Silicon</text>
<path d="M335,211.54 L335.22,206.72 L335.44,202.17 L335.66,198.04 L335.88,195.49 L336.1,195.4 L336.32,195.23 L336.54,194.61 L336.76,194.38 L336.98,193.95 L337.2,193.99 L337.42,193.71 L337.64,194.14 L337.86,194.05 L338.08,193.36 L338.3,194.25 L338.52,193.44 L338.74,193.98 L338.96,193.89 L339.18,193.95 L339.4,192.98 L339.62,193.17 L339.84,193.69 L340.06,192.54 L340.28,192.52 L340.5,193.08 L340.72,192.93 L340.94,193.38 L341.16,193.13 L341.38,192.78 L341.6,193.26 L341.82,192.6 L342.04,192.52 L342.26,192.63 L342.48,192.18 L342.7,192.04 L342.92,192.21 L343.14,191.8 L343.36,192.38 L343.58,191.87 L343.8,191.44 L344.02,190.63 L344.24,190.63 L344.46,190.3 L344.68,190.12 L344.9,189.75 L345.12,189.75 L345.34,189.49 L345.56,188.59 L345.78,188.25 L346,188.23 L346.22,188.5 L346.44,187.61 L346.66,187.81 L346.88,188.21 L347.1,187.57 L347.32,187.92 L347.54,188.93 L347.76,188.99 L347.98,188.87 L348.2,188.64 L348.42,189.81 L348.64,189.78 L348.86,190.1 L349.08,190.41 L349.3,190.32 L349.52,189.76 L349.74,189.42 L349.96,189.56 L350.18,189.79 L350.4,189.74 L350.62,189.31 L350.84,189.24 L351.06,189.72 L351.28,189.61 L351.5,189.24 L351.72,189.93 L351.94,189.41 L352.16,188.61 L352.38,188.96 L352.6,189.32 L352.82,188.64 L353.04,189.01 L353.26,188.08 L353.48,188.34 L353.7,188.89 L353.92,188.48 L354.14,188.47 L354.36,187.8 L354.58,188.05 L354.8,188 L355.02,187.53 L355.24,187.86 L355.46,187.59 L355.68,188 L355.9,187.34 L356.12,186.97 L356.34,186.44 L356.56,186.29 L356.78,186.8 L357,185.79 L357.22,185.53 L357.44,185.34 L357.66,185.45 L357.88,185.47 L358.1,184.75 L358.32,184.28 L358.54,182.55 L358.76,181.57 L358.98,181.51 L359.2,179.96 L359.42,179.25 L359.64,176.96 L359.86,173.15 L360.08,165.36 L360.3,148.13 L360.4,139.77 L360.5,135.23 L360.52,135.2 L360.6,139.82 L360.74,153.72 L360.96,169.7 L361.18,178.62 L361.4,182.33 L361.62,185.19 L361.84,186.12 L362.06,187.37 L362.28,187.6 L362.5,187.86 L362.72,189.33 L362.94,189.59 L363.16,189.23 L363.38,190.19 L363.6,190.32 L363.82,189.9 L364.04,190.42 L364.26,190.99 L364.48,190.55 L364.7,191.19 L364.92,190.41 L365.14,190.63 L365.36,191.04 L365.58,190.42 L365.8,190.48 L366.02,191.08 L366.24,190.51 L366.46,190.75 L366.68,189.95 L366.9,189.71 L367.12,189.76 L367.34,189.37 L367.56,190.13 L367.78,189.12 L368,189.25 L368.22,188.52 L368.44,188.83 L368.66,188.48 L368.88,188.32 L369.1,187.76 L369.32,187.68 L369.54,188.4 L369.76,187.72 L369.98,187.51 L370.2,187.37 L370.42,187.41 L370.64,187.29 L370.86,186.98 L371.08,187.68 L371.3,187.24 L371.52,186.96 L371.74,187.57 L371.96,186.79 L372.18,186.96 L372.4,187.59 L372.62,186.7 L372.84,187.03 L373.06,187.46 L373.28,187.37 L373.5,186.55 L373.72,186.73 L373.94,187.12 L374.16,186.65 L374.38,187.29 L374.6,186.33 L374.82,187.15 L375.04,186.54 L375.26,186.13 L375.48,186.31 L375.7,185.83 L375.92,186.41 L376.14,185.77 L376.36,186.42 L376.58,185.92 L376.8,185.53 L377.02,185.25 L377.24,185.54 L377.46,184.92 L377.68,185.57 L377.9,184.52 L378.12,184.84 L378.34,184.72 L378.56,184.24 L378.78,184.69 L379,184.07 L379.22,184.24 L379.44,183.98 L379.66,183.52 L379.88,183.46 L380.1,182.95 L380.32,182.92 L380.54,183.58 L380.76,182.81 L380.98,183.09 L381.2,182.29 L381.42,182.7 L381.64,182.33 L381.86,182.37 L382.08,181.99 L382.3,181.59 L382.52,181.75 L382.74,181.51 L382.96,181.25 L383.18,181.82 L383.4,181.15 L383.62,181.15 L383.84,181.59 L384.06,181.27 L384.28,181.23 L384.5,181.02 L384.72,179.96 L384.94,179.92 L385.16,179.4 L385.38,179.93 L385.6,179.66 L385.82,179.02 L386.04,178.82 L386.26,178.84 L386.48,178.61 L386.7,177.79 L386.92,178.22 L387.14,177.35 L387.36,177.41 L387.58,176.6 L387.8,176.27 L388.02,176.98 L388.24,176.53 L388.46,176.29 L388.68,175.28 L388.9,175.09 L389.12,175.05 L389.34,174.92 L389.56,174.89 L389.78,174.82 L390,174.26 L390.22,174.44 L390.44,174.69 L390.66,173.99 L390.88,174.64 L391.1,174.18 L391.32,174.21 L391.54,173.51 L391.76,173.58 L391.98,173.72 L392.2,173.16 L392.42,172.57 L392.64,173.4 L392.86,173.14 L393.08,172.36 L393.3,171.86 L393.52,172.62 L393.74,172.09 L393.96,171.17 L394.18,171.13 L394.4,170.67 L394.62,171.16 L394.84,170.11 L395.06,170.59 L395.28,170.01 L395.5,168.81 L395.72,169.13 L395.94,168.34 L396.16,168.32 L396.38,167.97 L396.6,166.86 L396.82,166.17 L397.04,166.74 L397.26,165.64 L397.48,165.79 L397.7,165.04 L397.92,164.63 L398.14,164.28 L398.36,163.56 L398.58,162.87 L398.8,161.91 L399.02,162.19 L399.24,161.36 L399.46,160.94 L399.68,160.91 L399.9,159.41 L400.12,159.61 L400.34,158.17 L400.56,158.37 L400.78,157.89 L401,156.6 L401.22,156.29 L401.44,156.12 L401.66,155.02 L401.88,154.17 L402.1,153.05 L402.32,152.04 L402.54,151.58 L402.76,150.8 L402.98,149.68 L403.2,148.92 L403.42,147.8 L403.64,147.54 L403.86,146.54 L404.08,145.04 L404.3,144.04 L404.52,143.34 L404.74,142.2 L404.96,141.7 L405.18,139.88 L405.4,138.66 L405.62,138.16 L405.84,136.02 L406.06,135.24 L406.28,133.61 L406.5,132.79 L406.72,131.01 L406.94,129.74 L407.16,127.41 L407.38,126.25 L407.6,124.27 L407.82,122.09 L408.04,120.33 L408.26,118.18 L408.48,115.02 L408.7,112.85 L408.92,110.51 L409.14,107.85 L409.36,105.17 L409.58,102.92 L409.8,100.3 L410.02,98.4 L410.24,95.61 L410.46,92.71 L410.68,90.34 L410.9,87.79 L411.12,84.88 L411.34,81.84 L411.56,78.93 L411.78,76.11 L412,74.63 L412.22,71.8 L412.44,68.62 L412.66,67.06 L412.88,64.89 L413.1,61.8 L413.32,58.67 L413.54,56.67 L413.76,54.38 L413.98,52.2 L414.2,51.18 L414.42,49.65 L414.64,50.51 L414.86,50.57 L415.08,51.44 L415.3,53.13 L415.52,54.47 L415.74,55.95 L415.96,58.12 L416.18,60.3 L416.4,62.53 L416.62,65.77 L416.84,68.11 L417.06,69.72 L417.28,72.17 L417.5,75.55 L417.72,78.81 L417.94,81.99 L418.16,84.15 L418.38,87.85 L418.6,90.67 L418.82,93.04 L419.04,94.65 L419.26,96.4 L419.48,99.02 L419.7,100.19 L419.92,101.93 L420.14,103.74 L420.36,105.01 L420.58,106.94 L420.8,107.47 L421.02,108.35 L421.24,109.95 L421.46,110.96 L421.68,112.13 L421.9,112.89 L422.12,113.95 L422.34,114.7 L422.56,114.71 L422.78,115.07 L423,114.79 L423.22,114.88 L423.44,114.98 L423.66,114.01 L423.88,114.25 L424.1,113.02 L424.32,112.66 L424.54,112.51 L424.76,110.61 L424.98,109.65 L425.2,109.19 L425.42,107.93 L425.64,107.58 L425.86,105.58 L426.08,105.21 L426.3,103.65 L426.52,101.82 L426.74,99.48 L426.96,97.28 L427.18,95.6 L427.4,93.21 L427.62,90.84 L427.84,88.35 L428.06,85.72 L428.28,82.94 L428.5,79.92 L428.72,76.75 L428.94,72.66 L429.16,69.81 L429.38,67.23 L429.6,64.39 L429.82,60.97 L430.04,57.68 L430.26,54.74 L430.48,52.76 L430.7,51.43 L430.92,51.57 L431.14,52.22 L431.36,53.99 L431.58,56.83 L431.8,60.2 L432.02,63.67 L432.24,68.06 L432.46,71.41 L432.68,76.98 L432.9,83.22 L433.12,90 L433.34,97.63 L433.56,104.83 L433.78,110.41 L434,116.92 L434.22,122.69 L434.44,128.51 L434.66,134.19 L434.88,137.13 L435.1,140.47 L435.32,143.98 L435.54,146.35 L435.76,148.25 L435.98,150.91 L436.2,152.12 L436.42,153.48 L436.64,154.16 L436.86,155.12 L437.08,156.08 L437.3,156.24 L437.52,155.95 L437.74,156.8 L437.96,159.78 L438.18,159.13 L438.4,158.11 L438.62,161.07 L438.84,159.35 L439.06,159.1 L439.28,160.82 L439.5,160.04 L439.72,160.97 L439.94,161.28 L440.16,160.26 L440.38,161.52 L440.6,160.04 L440.82,161.47" fill="none" stroke="#505050" stroke-width="1.9" stroke-linejoin="round"/>
<path d="M440.82,161.47 L441.04,161.8 L441.26,160.14 L441.48,161.32 L441.7,160.24 L441.92,161.54 L442.14,163.03 L442.36,162.01 L442.58,162.6 L442.8,162.78 L443.02,160.62 L443.24,163.63 L443.46,162.73 L443.68,160.64 L443.9,163.12 L444.12,161.63 L444.34,160.88 L444.56,163.56 L444.78,162.21 L445,162.92 L445.22,160.75 L445.44,162.92 L445.66,160.47 L445.88,161.07 L446.1,161.52 L446.32,160.3 L446.54,162.26 L446.76,160.95 L446.98,161.24 L447.2,162.61 L447.42,161.64 L447.64,163.21 L447.86,162.29 L448.08,163.13 L448.3,162.07 L448.52,163.27 L448.74,163.1 L448.96,160.7 L449.18,162.66 L449.4,161.28 L449.62,162.71 L449.84,162.42 L450.06,162.91 L450.28,160.52 L450.5,161.37 L450.72,162.61 L450.94,163.32 L451.16,162.56 L451.38,160.25 L451.6,162.16 L451.82,160.45 L452.04,161.99 L452.26,162.86 L452.48,160.52 L452.7,163.29 L452.92,162.45 L453.14,161.03 L453.36,160.83 L453.58,161.71 L453.8,163.05 L454.02,162.19 L454.24,160.61 L454.46,160.31 L454.68,160.63 L454.9,162.99 L455.12,160.42 L455.34,162.28 L455.56,160.97 L455.78,162.98 L456,161.46 L456.22,160.3 L456.44,163.98 L456.66,162.31 L456.88,163.09 L457.1,163.7 L457.32,164.43 L457.54,159.77 L457.76,161.44 L457.98,160.5 L458.2,162.28 L458.42,164.16 L458.64,163.82 L458.86,160.02 L459.08,160.77 L459.3,163.98 L459.52,163.31 L459.74,161.89 L459.96,162.33 L460.18,160.77 L460.4,164.23 L460.62,161.99 L460.84,164.42 L461.06,163.13 L461.28,160.48 L461.5,161.77 L461.72,161.23 L461.94,164.65 L462.16,163.16 L462.38,160.47 L462.6,161.14 L462.82,162.14 L463.04,162.71 L463.26,163.3 L463.48,162.41 L463.7,162.28 L463.92,160.59 L464.14,163.51 L464.36,162.34 L464.58,160.83 L464.8,163.08 L465.02,165.77 L465.24,161.12 L465.46,161.68 L465.68,164.36 L465.9,162.42 L466.12,162.48 L466.34,163.67 L466.56,162.54 L466.78,164.13 L467,163.98 L467.22,166.18 L467.44,166.41 L467.66,161.68 L467.88,164.36 L468.1,165.46 L468.32,166.02 L468.54,165.57 L468.76,164.91 L468.98,164.96 L469.2,163.65 L469.42,163.28 L469.64,165.88 L469.86,166.3 L470.08,166.66 L470.3,165.41 L470.52,163.54 L470.74,165.86 L470.96,165.76 L471.18,164.62 L471.4,165.27 L471.62,163.85 L471.84,164.85 L472.06,164.13 L472.28,162.4 L472.5,163.78 L472.72,163.71 L472.94,167.03 L473.16,164.49 L473.38,163.91 L473.6,163.28 L473.82,163.22 L474.04,163.79 L474.26,162.7 L474.48,162.05 L474.7,166.35 L474.92,164.25 L475.14,164.19 L475.36,164.79 L475.58,163.44 L475.8,162.76 L476.02,162.22 L476.24,163.38 L476.46,163.39 L476.68,165.46 L476.9,164.56 L477.12,166.47 L477.34,163.46 L477.56,166.34 L477.78,164.62 L478,162.08 L478.22,162.55 L478.44,164.53 L478.66,166.54 L478.88,163.36 L479.1,165.42 L479.32,163.66 L479.54,165.83 L479.76,161.8 L479.98,163.86 L480.2,165.9 L480.42,162.76 L480.64,162.63 L480.86,161.43 L481.08,162.11 L481.3,162.6 L481.52,164.75 L481.74,162.29 L481.96,163.17 L482.18,162.14 L482.4,164.13 L482.62,165.4 L482.84,164.29 L483.06,162 L483.28,164.66 L483.5,165.77 L483.72,163.92 L483.94,161.27 L484.16,164.88 L484.38,165.17 L484.6,162.46 L484.82,161.39 L485.04,161.61 L485.26,163.31 L485.48,164.95 L485.7,163.73 L485.92,165.09 L486.14,161.49 L486.36,162.02 L486.58,164.08 L486.8,163.53 L487.02,162.26 L487.24,163.57 L487.46,161.81 L487.68,160.36 L487.9,162.09 L488.12,160.19 L488.34,163.04 L488.56,161.53 L488.78,162.28 L489,162.74 L489.22,160.98 L489.44,161.96 L489.66,159.66 L489.88,164.16 L490.1,162.3 L490.32,164.37 L490.54,159.66 L490.76,162.4 L490.98,162.9 L491.2,160.87 L491.42,159.64 L491.64,159.91 L491.86,159.79 L492.08,162.86 L492.3,159.43 L492.52,163.01 L492.74,161.01 L492.96,161.54 L493.18,161.75 L493.4,161.54 L493.62,162 L493.84,161.68 L494.06,160.28 L494.28,162.28 L494.5,159.81 L494.72,162.03 L494.94,162.24 L495.16,162.25 L495.38,159.87 L495.6,162.13 L495.82,163.11 L496.04,160.43 L496.26,159.51 L496.48,160.68 L496.7,162.72 L496.92,158.63 L497.14,157.97 L497.36,160.25 L497.58,161.1 L497.8,161.65 L498.02,159.55 L498.24,162.65 L498.46,158.8 L498.68,161.41 L498.9,158.04 L499.12,157.7 L499.34,158.2 L499.56,157.8 L499.78,159.99 L500,160.23 L500.22,158.35 L500.44,162.12 L500.66,159.24 L500.88,158.15 L501.1,158.29 L501.32,161.09 L501.54,162.02 L501.76,158.25 L501.98,157.61 L502.2,161.4 L502.42,158.78 L502.64,162.54 L502.86,160.19 L503.08,160.95 L503.3,159.58 L503.52,161.95 L503.74,160.35 L503.96,159.77 L504.18,162.78 L504.4,158.92 L504.62,162.17 L504.84,158.95 L505.06,161.98 L505.28,160.9 L505.5,163.35 L505.72,159.46 L505.94,162.13 L506.16,161.5 L506.38,164.19 L506.6,164.46 L506.82,163.02 L507.04,161.15 L507.26,161.43 L507.48,161.63 L507.7,162.63 L507.92,161.75 L508.14,161.75 L508.36,164.67 L508.58,164.22 L508.8,162.62 L509.02,166.23 L509.24,162.46 L509.46,164.34 L509.68,162.4 L509.9,166.05 L510.12,166.2 L510.34,163.31 L510.56,165.85 L510.78,166.32 L511,163.74 L511.22,164.1 L511.44,164.99 L511.66,167.14 L511.88,163.61 L512.1,166.34 L512.32,166.03 L512.54,165.44 L512.76,166.19 L512.98,167.84 L513.2,164.6 L513.42,168.1 L513.64,165.61 L513.86,167.84 L514.08,168.39 L514.3,165.13 L514.52,168.67 L514.74,169.47 L514.96,166.13 L515.18,164.91 L515.4,165.49 L515.62,169.96 L515.84,165.29 L516.06,169.96 L516.28,166.32 L516.5,169.41 L516.72,166.39 L516.94,166.92 L517.16,169.66 L517.38,166.88 L517.6,168.32 L517.82,171.41 L518.04,170.61 L518.26,171.65 L518.48,172.36 L518.7,167.85 L518.92,169.09 L519.14,172.11 L519.36,171.84 L519.58,168.83 L519.8,171.42 L520.02,170.31 L520.24,171.56 L520.46,170.2 L520.68,170.04 L520.9,175.16 L521.12,172.06 L521.34,175.15 L521.56,171.63 L521.78,173.75 L522,172.27 L522.22,174.01 L522.44,173.05 L522.66,175.87 L522.88,173.5 L523.1,176.79 L523.32,175.95 L523.54,174.37 L523.76,175.94 L523.98,177.04 L524.2,179.53 L524.42,177.08 L524.64,176.79 L524.86,180.95 L525.08,180.91 L525.3,180.53 L525.52,178.62 L525.74,178.5 L525.96,179.29 L526.18,178.66 L526.4,178.85 L526.62,181.48 L526.84,181.27 L527.06,182.27 L527.28,181.54 L527.5,179.99 L527.72,183.56 L527.94,183.54 L528.16,183.15 L528.38,183.32 L528.6,184.17 L528.82,185.76 L529.04,185.34 L529.26,184.68 L529.48,183.2 L529.7,182.91 L529.92,183.51 L530.14,186.38 L530.36,183.55 L530.58,183.63 L530.8,183.84 L531.02,182.6 L531.24,186.96 L531.46,182.07 L531.68,185.17 L531.9,186.84 L532.12,183.57 L532.34,185.43 L532.56,184.34 L532.78,183.75 L533,183.62 L533.22,183.3 L533.44,187.02 L533.66,186.82 L533.88,187.54 L534.1,183.35 L534.32,186.67 L534.54,184.94 L534.76,186.66 L534.98,186.3 L535.2,185.26 L535.42,188.67 L535.64,183.96 L535.86,187.84 L536.08,188.55 L536.3,187.03 L536.52,187.64 L536.74,189.88 L536.96,186.31 L537.18,188.53 L537.4,189.35 L537.62,187.78 L537.84,189.71 L538.06,188.39 L538.28,189.32 L538.5,190.02 L538.72,190.61 L538.94,189.09 L539.16,190.88 L539.38,190.7 L539.6,189.34 L539.82,191.51 L540.04,189.99 L540.26,193.41 L540.48,191.41 L540.7,192.82 L540.92,191.96 L541.14,191.86 L541.36,190.7 L541.58,190.42 L541.8,194.45 L542.02,192.56 L542.24,192.64 L542.46,192.75 L542.68,194.28 L542.9,191.49 L543.12,191.25 L543.34,194.58 L543.56,192.85 L543.78,193.83 L544,194.84 L544.22,195.25 L544.44,195.19 L544.66,191.14 L544.88,192.91 L545.1,195.23 L545.32,195.23 L545.54,191.83 L545.76,192.06 L545.98,192.62 L546.2,191.95 L546.42,193.29 L546.64,195.6 L546.86,194.26 L547.08,193.99 L547.3,192.24 L547.52,193.86 L547.74,196.94 L547.96,195.5 L548.18,194.34 L548.4,194.56 L548.62,196.23 L548.84,196.11 L549.06,193.13 L549.28,195.85 L549.5,194.36 L549.72,195.19 L549.94,193.85 L550.16,194.58 L550.38,194.49 L550.6,194.77 L550.82,193.02 L551.04,194 L551.26,195.91 L551.48,193.41 L551.7,194.08 L551.92,196.84 L552.14,194.68 L552.36,194.99 L552.58,194.64 L552.8,197.66 L553.02,194.01 L553.24,196.79 L553.46,197.96 L553.68,194.73 L553.9,195.89 L554.12,197.79 L554.34,196.97 L554.56,195.8 L554.78,194.21 L555,196.25 L555.22,195.93 L555.44,197.7 L555.66,195.66 L555.88,196.28 L556.1,197.52 L556.32,198.38 L556.54,196.14 L556.76,196.35 L556.98,197.36 L557.2,199.13 L557.42,195.51 L557.64,199.45 L557.86,198.19 L558.08,196.54 L558.3,198.04 L558.52,196.41 L558.74,195.15 L558.96,198.62 L559.18,196.78 L559.4,197.55 L559.62,197.44 L559.84,199.51 L560.06,198.82 L560.28,195.21 L560.5,198.08 L560.72,197.47 L560.94,197.51 L561.16,199.44 L561.38,197.35 L561.6,197.69 L561.82,199.81 L562.04,197.6 L562.26,197.9 L562.48,198.04 L562.7,199.65 L562.92,198.92 L563.14,199.31 L563.36,197.66 L563.58,195.9 L563.8,199.14 L564.02,198.56 L564.24,199.68 L564.46,199.73 L564.68,196.52 L564.9,197.08 L565.12,196.41 L565.34,200.16 L565.56,196.64 L565.78,196.62 L566,200 L566.22,199.11 L566.44,196.62 L566.66,199.81 L566.88,200.01 L567.1,198.93 L567.32,196.85 L567.54,200.09 L567.76,198.78 L567.98,199.68 L568.2,201.81 L568.42,200.96 L568.64,201.3 L568.86,197.73 L569.08,198.73 L569.3,199.72 L569.52,197.22 L569.74,202.19 L569.96,198.68 L570.18,198.69 L570.4,199 L570.62,198.77 L570.84,201.85 L571.06,200.4 L571.28,200.24 L571.5,199.84 L571.72,198.06 L571.94,199.38 L572.16,202.25 L572.38,201.99 L572.6,202.32 L572.82,199.37 L573.04,199.15 L573.26,198.46 L573.48,200.94 L573.7,200.17 L573.92,200.68 L574.14,200.85 L574.36,201.37 L574.58,200.33 L574.8,202.55 L575.02,199.59 L575.24,203.23 L575.46,201.46 L575.68,198.97 L575.9,200.33 L576.12,201.46 L576.34,200.88 L576.56,201.7 L576.78,200.54 L577,200.33 L577.22,202.98 L577.44,200.5 L577.66,202.64 L577.88,203.14 L578.1,202.13 L578.32,201.49 L578.54,203.93 L578.76,201.52 L578.98,203.73 L579.2,199.66 L579.42,201.58 L579.64,202.65 L579.86,199.74 L580.08,203.84 L580.3,199.93 L580.52,202.58 L580.74,200.54 L580.96,204.28 L581.18,202.51 L581.4,203.74 L581.62,202.25 L581.84,203.16 L582.06,203.19 L582.28,201.32 L582.5,200.92 L582.72,204.08 L582.94,200.64 L583.16,204.52 L583.38,200.98 L583.6,200.46 L583.82,200.45 L584.04,203.9 L584.26,204.74 L584.48,202.07 L584.7,203.29 L584.92,201.29 L585.14,204.52 L585.36,203.4 L585.58,200.7 L585.8,200.16 L586.02,203.29 L586.24,199.95 L586.46,203.85 L586.68,201.05 L586.9,200.65 L587.12,202.3 L587.34,200.89 L587.56,202 L587.78,199.87" fill="none" stroke="#4e4e4e" stroke-width="2.2" stroke-linejoin="round"/>
<rect x="328" y="2.8" width="260.6" height="210.5" fill="none" stroke="#000" stroke-width="2.2"/>
<path d="M328,213.3 V209.8 M360.5,213.3 V209.8 M393,213.3 V209.8 M425.5,213.3 V209.8 M458,213.3 V209.8 M490.5,213.3 V209.8 M523,213.3 V209.8 M555.5,213.3 V209.8 M588,213.3 V209.8 M344.25,213.3 V211.3 M376.75,213.3 V211.3 M409.25,213.3 V211.3 M441.75,213.3 V211.3 M474.25,213.3 V211.3 M506.75,213.3 V211.3 M539.25,213.3 V211.3 M571.75,213.3 V211.3 " stroke="#000" stroke-width="1.8" fill="none"/>
<text x="328" y="227.2" font-size="11.5" text-anchor="middle" font-weight="bold" fill="#000">0</text>
<text x="360.5" y="227.2" font-size="11.5" text-anchor="middle" font-weight="bold" fill="#000">500</text>
<text x="393" y="227.2" font-size="11.5" text-anchor="middle" font-weight="bold" fill="#000">1000</text>
<text x="425.5" y="227.2" font-size="11.5" text-anchor="middle" font-weight="bold" fill="#000">1500</text>
<text x="458" y="227.2" font-size="11.5" text-anchor="middle" font-weight="bold" fill="#000">2000</text>
<text x="490.5" y="227.2" font-size="11.5" text-anchor="middle" font-weight="bold" fill="#000">2500</text>
<text x="523" y="227.2" font-size="11.5" text-anchor="middle" font-weight="bold" fill="#000">3000</text>
<text x="555.5" y="227.2" font-size="11.5" text-anchor="middle" font-weight="bold" fill="#000">3500</text>
<text x="588" y="227.2" font-size="11.5" text-anchor="middle" font-weight="bold" fill="#000">4000</text>
<text x="464" y="241.3" font-size="15" text-anchor="middle" font-weight="bold" fill="#000">Raman shift (cm<tspan dy="-5" font-size="9.5">−1</tspan><tspan dy="5">)</tspan></text>
<text x="318.5" y="102" font-size="16" text-anchor="middle" font-weight="bold" fill="#000" transform="rotate(-90 318.5 102)">Intensity (a.u.)</text>
<text x="330" y="19.7" font-size="17.5" text-anchor="start" font-weight="bold" fill="#000" letter-spacing="0.8">(b)</text>
<path d="M41.2,283.19 L41.8,283.28 L42.4,283.36 L43,283.45 L43.6,283.53 L44.2,283.62 L44.8,283.7 L45.4,283.78 L46,283.86 L46.6,283.94 L47.2,284.02 L47.8,284.09 L48.4,284.17 L49,284.24 L49.6,284.32 L50.2,284.39 L50.8,284.46 L51.4,284.53 L52,284.6 L52.6,284.67 L53.2,284.74 L53.8,284.8 L54.4,284.87 L55,284.93 L55.6,285 L56.2,285.06 L56.8,285.12 L57.4,285.18 L58,285.24 L58.6,285.3 L59.2,285.36 L59.8,285.42 L60.4,285.47 L61,285.53 L61.6,285.58 L62.2,285.64 L62.8,285.69 L63.4,285.74 L64,285.79 L64.6,285.85 L65.2,285.89 L65.8,285.94 L66.4,285.99 L67,286.04 L67.6,286.09 L68.2,286.13 L68.8,286.18 L69.4,286.22 L70,286.26 L70.6,286.31 L71.2,286.35 L71.8,286.39 L72.4,286.43 L73,286.47 L73.6,286.51 L74.2,286.54 L74.8,286.58 L75.4,286.62 L76,286.65 L76.6,286.69 L77.2,286.72 L77.8,286.76 L78.4,286.79 L79,286.82 L79.6,286.86 L80.2,286.89 L80.8,286.92 L81.4,286.95 L82,286.98 L82.6,287.01 L83.2,287.03 L83.8,287.06 L84.4,287.09 L85,287.12 L85.6,287.14 L86.2,287.17 L86.8,287.19 L87.4,287.22 L88,287.24 L88.6,287.26 L89.2,287.28 L89.8,287.31 L90.4,287.33 L91,287.35 L91.6,287.37 L92.2,287.39 L92.8,287.41 L93.4,287.43 L94,287.45 L94.6,287.46 L95.2,287.48 L95.8,287.5 L96.4,287.52 L97,287.53 L97.6,287.55 L98.2,287.56 L98.8,287.58 L99.4,287.59 L100,287.61 L100.6,287.62 L101.2,287.64 L101.8,287.65 L102.4,287.66 L103,287.67 L103.6,287.69 L104.2,287.7 L104.8,287.71 L105.4,287.72 L106,287.73 L106.6,287.74 L107.2,287.75 L107.8,287.76 L108.4,287.77 L109,287.78 L109.6,287.79 L110.2,287.8 L110.8,287.81 L111.4,287.82 L112,287.82 L112.6,287.83 L113.2,287.84 L113.8,287.85 L114.4,287.85 L115,287.86 L115.6,287.87 L116.2,287.87 L116.8,287.88 L117.4,287.89 L118,287.89 L118.6,287.9 L119.2,287.9 L119.8,287.91 L120.4,287.91 L121,287.92 L121.6,287.92 L122.2,287.93 L122.8,287.93 L123.4,287.94 L124,287.94 L124.6,287.95 L125.2,287.95 L125.8,287.96 L126.4,287.96 L127,287.97 L127.6,287.97 L128.2,287.97 L128.8,287.98 L129.4,287.98 L130,287.99 L130.6,287.99 L131.2,287.99 L131.8,288 L132.4,288 L133,288.01 L133.6,288.01 L134.2,288.01 L134.8,288.02 L135.4,288.02 L136,288.03 L136.6,288.03 L137.2,288.04 L137.8,288.04 L138.4,288.05 L139,288.05 L139.6,288.06 L140.2,288.06 L140.8,288.07 L141.4,288.07 L142,288.08 L142.6,288.08 L143.2,288.09 L143.8,288.09 L144.4,288.1 L145,288.1 L145.6,288.11 L146.2,288.12 L146.8,288.12 L147.4,288.13 L148,288.14 L148.6,288.14 L149.2,288.15 L149.8,288.16 L150.4,288.17 L151,288.18 L151.6,288.18 L152.2,288.19 L152.8,288.2 L153.4,288.21 L154,288.22 L154.6,288.23 L155.2,288.24 L155.8,288.25 L156.4,288.26 L157,288.27 L157.6,288.28 L158.2,288.3 L158.8,288.31 L159.4,288.32 L160,288.33 L160.6,288.35 L161.2,288.36 L161.8,288.37 L162.4,288.39 L163,288.4 L163.6,288.42 L164.2,288.43 L164.8,288.45 L165.4,288.46 L166,288.48 L166.6,288.5 L167.2,288.51 L167.8,288.53 L168.4,288.55 L169,288.57 L169.6,288.59 L170.2,288.61 L170.8,288.63 L171.4,288.65 L172,288.67 L172.6,288.69 L173.2,288.72 L173.8,288.74 L174.4,288.76 L175,288.79 L175.6,288.81 L176.2,288.84 L176.8,288.86 L177.4,288.89 L178,288.92 L178.6,288.94 L179.2,288.97 L179.8,289.01 L180.4,289.05 L181,289.1 L181.6,289.16 L182.2,289.23 L182.8,289.32 L183.4,289.42 L184,289.54 L184.6,289.68 L185.2,289.84 L185.8,290.02 L186.4,290.23 L187,290.47 L187.6,290.74 L188.2,291.04 L188.8,291.37 L189.4,291.74 L190,292.15 L190.6,292.59 L191.2,293.08 L191.8,293.61 L192.4,294.18 L193,294.8 L193.6,295.47 L194.2,296.19 L194.8,296.96 L195.4,297.79 L196,298.68 L196.6,299.62 L197.2,300.62 L197.8,301.69 L198.4,302.82 L199,304.01 L199.6,305.28 L200.2,306.61 L200.8,308.02 L201.4,309.5 L202,311.05 L202.6,312.69 L203.2,314.39 L203.8,316.16 L204.4,317.98 L205,319.83 L205.6,321.7 L206.2,323.57 L206.8,325.44 L207.4,327.29 L208,329.11 L208.6,330.87 L209.2,332.58 L209.8,334.21 L210.4,335.75 L211,337.19 L211.6,338.52 L212.2,339.71 L212.8,340.77 L213.4,341.69 L214,342.5 L214.6,343.23 L215.2,343.88 L215.8,344.49 L216.4,345.07 L217,345.65 L217.6,346.24 L218.2,346.88 L218.8,347.56 L219.4,348.27 L220,349.03 L220.6,349.83 L221.2,350.67 L221.8,351.55 L222.4,352.47 L223,353.42 L223.6,354.41 L224.2,355.43 L224.8,356.49 L225.4,357.58 L226,358.71 L226.6,359.88 L227.2,361.07 L227.8,362.3 L228.4,363.57 L229,364.87 L229.6,366.2 L230.2,367.56 L230.8,368.96 L231.4,370.39 L232,371.85 L232.6,373.34 L233.2,374.86 L233.8,376.42 L234.4,378 L235,379.61 L235.6,381.25 L236.2,382.9 L236.8,384.58 L237.4,386.27 L238,387.98 L238.6,389.7 L239.2,391.42 L239.8,393.15 L240.4,394.88 L241,396.62 L241.6,398.35 L242.2,400.07 L242.8,401.78 L243.4,403.49 L244,405.17 L244.6,406.85 L245.2,408.5 L245.8,410.13 L246.4,411.73 L247,413.31 L247.6,414.85 L248.2,416.36 L248.8,417.84 L249.4,419.27 L250,420.67 L250.6,422.02 L251.2,423.34 L251.8,424.62 L252.4,425.85 L253,427.05 L253.6,428.2 L254.2,429.31 L254.8,430.38 L255.4,431.41 L256,432.39 L256.6,433.33 L257.2,434.22 L257.8,435.08 L258.4,435.88 L259,436.65 L259.6,437.36 L260.2,438.03 L260.8,438.66 L261.4,439.24 L262,439.77 L262.6,440.26 L263.2,440.69 L263.8,441.08 L264.4,441.43 L265,441.72 L265.6,441.96 L266.2,442.16 L266.8,442.31 L267.4,442.42 L268,442.49 L268.6,442.52 L269.2,442.52 L269.8,442.49 L270.4,442.43 L271,442.35 L271.6,442.24 L272.2,442.12 L272.8,441.98 L273.4,441.82 L274,441.65 L274.6,441.48 L275.2,441.3 L275.8,441.12 L276.4,440.93 L277,440.75 L277.6,440.58 L278.2,440.42 L278.8,440.26 L279.4,440.13 L280,440.01 L280.6,439.91 L281.2,439.83 L281.8,439.78 L282.4,439.76 L283,439.76 L283.6,439.81" fill="none" stroke="#000" stroke-width="2.7" stroke-linecap="round" stroke-linejoin="round"/>
<rect x="34.1" y="248.5" width="261.2" height="210.1" fill="none" stroke="#000" stroke-width="2.2"/>
<path d="M34.1,458.6 V455.1 M86.1,458.6 V455.1 M138.1,458.6 V455.1 M190.1,458.6 V455.1 M242.1,458.6 V455.1 M294.1,458.6 V455.1 M60.1,458.6 V456.6 M112.1,458.6 V456.6 M164.1,458.6 V456.6 M216.1,458.6 V456.6 M268.1,458.6 V456.6 " stroke="#000" stroke-width="1.8" fill="none"/>
<path d="M34.1,446.67 H37.6 M34.1,423.36 H37.6 M34.1,400.05 H37.6 M34.1,376.74 H37.6 M34.1,353.43 H37.6 M34.1,330.12 H37.6 M34.1,306.81 H37.6 M34.1,283.5 H37.6 M34.1,260.19 H37.6 M34.1,435.01 H36.1 M34.1,411.7 H36.1 M34.1,388.39 H36.1 M34.1,365.08 H36.1 M34.1,341.77 H36.1 M34.1,318.46 H36.1 M34.1,295.15 H36.1 M34.1,271.85 H36.1 " stroke="#000" stroke-width="1.8" fill="none"/>
<text x="34.1" y="472.3" font-size="10.8" text-anchor="middle" font-weight="bold" fill="#000">0</text>
<text x="86.1" y="472.3" font-size="10.8" text-anchor="middle" font-weight="bold" fill="#000">200</text>
<text x="138.1" y="472.3" font-size="10.8" text-anchor="middle" font-weight="bold" fill="#000">400</text>
<text x="190.1" y="472.3" font-size="10.8" text-anchor="middle" font-weight="bold" fill="#000">600</text>
<text x="242.1" y="472.3" font-size="10.8" text-anchor="middle" font-weight="bold" fill="#000">800</text>
<text x="284.3" y="472.3" font-size="10.8" text-anchor="start" font-weight="bold" fill="#222">1000</text>
<text x="28.9" y="450.07" font-size="11.4" text-anchor="end" font-weight="bold" fill="#000">30</text>
<text x="28.9" y="426.76" font-size="11.4" text-anchor="end" font-weight="bold" fill="#000">40</text>
<text x="28.9" y="403.45" font-size="11.4" text-anchor="end" font-weight="bold" fill="#000">50</text>
<text x="28.9" y="380.14" font-size="11.4" text-anchor="end" font-weight="bold" fill="#000">60</text>
<text x="28.9" y="356.83" font-size="11.4" text-anchor="end" font-weight="bold" fill="#000">70</text>
<text x="28.9" y="333.52" font-size="11.4" text-anchor="end" font-weight="bold" fill="#000">80</text>
<text x="28.9" y="310.21" font-size="11.4" text-anchor="end" font-weight="bold" fill="#000">90</text>
<text x="28.9" y="286.9" font-size="11.4" text-anchor="end" font-weight="bold" fill="#000">100</text>
<text x="28.9" y="263.59" font-size="11.4" text-anchor="end" font-weight="bold" fill="#000">110</text>
<text x="13" y="356.5" font-size="15.1" text-anchor="middle" font-weight="bold" fill="#000" transform="rotate(-90 13 356.5)">Mass change (%)</text>
<text x="41.7" y="267" font-size="17.5" text-anchor="start" font-weight="bold" fill="#000" letter-spacing="0.8">(c)</text>
<text x="273" y="424.6" font-size="12.5" text-anchor="middle" font-weight="bold" fill="#222">33.05%</text>
<text x="105.5" y="483.7" font-size="13.9" text-anchor="start" font-weight="bold" fill="#000">Temperature</text>
<text x="189.8" y="483.5" font-size="11.5" text-anchor="start" font-weight="normal" fill="#000">(</text>
<text x="196.5" y="483.7" font-size="13.6" text-anchor="start" font-weight="normal" fill="#000"><tspan font-size="9" dy="-4">°</tspan><tspan dy="4">C</tspan></text>
<text x="212.3" y="483.5" font-size="11.5" text-anchor="start" font-weight="normal" fill="#000">)</text>
<path d="M332.5,438.3 L333.5,438.3 L334.5,438.3 L335.5,438.3 L336.5,438.3 L337.5,438.3 L338.5,438.3 L339.5,438.3 L340.5,438.24 L341.5,437.6 L342.5,436.84 L343.5,435.96 L344.5,434.96 L345.5,433.83 L346.5,432.57 L347.5,431.19 L348.5,429.68 L349.5,428.05 L350.5,426.28 L351.5,424.39 L352.5,422.38 L353.5,420.25 L354.5,418.03 L355.5,415.7 L356.5,413.28 L357.5,410.77 L358.5,408.18 L359.5,405.52 L360.5,402.78 L361.5,399.99 L362.5,397.13 L363.5,394.22 L364.5,391.27 L365.5,388.28 L366.5,385.25 L367.5,382.2 L368.5,379.13 L369.5,376.04 L370.5,372.94 L371.5,369.83 L372.5,366.73 L373.5,363.64 L374.5,360.56 L375.5,357.51 L376.5,354.47 L377.5,351.48 L378.5,348.52 L379.5,345.59 L380.5,342.71 L381.5,339.87 L382.5,337.07 L383.5,334.31 L384.5,331.61 L385.5,328.95 L386.5,326.34 L387.5,323.78 L388.5,321.28 L389.5,318.83 L390.5,316.44 L391.5,314.1 L392.5,311.83 L393.5,309.62 L394.5,307.47 L395.5,305.39 L396.5,303.37 L397.5,301.43 L398.5,299.55 L399.5,297.75 L400.5,296.01 L401.5,294.36 L402.5,292.78 L403.5,291.28 L404.5,289.86 L405.5,288.52 L406.5,287.27 L407.5,286.1 L408.5,285.02 L409.5,284.03 L410.5,283.13 L411.5,282.32 L412.5,281.61 L413.5,280.99 L414.5,280.47 L415.5,280.04 L416.5,279.72 L417.5,279.5 L418.5,279.39 L419.5,279.38 L420.5,279.48 L421.5,279.68 L422.5,280 L423.5,280.43 L424.5,280.98 L425.5,281.64 L426.5,282.42 L427.5,283.31 L428.5,284.32 L429.5,285.43 L430.5,286.64 L431.5,287.95 L432.5,289.35 L433.5,290.84 L434.5,292.42 L435.5,294.08 L436.5,295.82 L437.5,297.64 L438.5,299.52 L439.5,301.47 L440.5,303.48 L441.5,305.55 L442.5,307.67 L443.5,309.84 L444.5,312.06 L445.5,314.31 L446.5,316.61 L447.5,318.94 L448.5,321.3 L449.5,323.68 L450.5,326.09 L451.5,328.51 L452.5,330.94 L453.5,333.39 L454.5,335.84 L455.5,338.29 L456.5,340.74 L457.5,343.18 L458.5,345.62 L459.5,348.06 L460.5,350.48 L461.5,352.89 L462.5,355.29 L463.5,357.67 L464.5,360.03 L465.5,362.38 L466.5,364.7 L467.5,367 L468.5,369.28 L469.5,371.52 L470.5,373.74 L471.5,375.93 L472.5,378.08 L473.5,380.2 L474.5,382.28 L475.5,384.33 L476.5,386.33 L477.5,388.29 L478.5,390.2 L479.5,392.07 L480.5,393.89 L481.5,395.65 L482.5,397.37 L483.5,399.03 L484.5,400.65 L485.5,402.21 L486.5,403.73 L487.5,405.2 L488.5,406.63 L489.5,408 L490.5,409.34 L491.5,410.63 L492.5,411.87 L493.5,413.08 L494.5,414.24 L495.5,415.36 L496.5,416.44 L497.5,417.48 L498.5,418.48 L499.5,419.45 L500.5,420.38 L501.5,421.27 L502.5,422.13 L503.5,422.95 L504.5,423.74 L505.5,424.5 L506.5,425.23 L507.5,425.92 L508.5,426.58 L509.5,427.22 L510.5,427.83 L511.5,428.4 L512.5,428.95 L513.5,429.48 L514.5,429.98 L515.5,430.46 L516.5,430.91 L517.5,431.34 L518.5,431.74 L519.5,432.13 L520.5,432.49 L521.5,432.84 L522.5,433.16 L523.5,433.47 L524.5,433.76 L525.5,434.04 L526.5,434.3 L527.5,434.54 L528.5,434.77 L529.5,434.99 L530.5,435.2 L531.5,435.39 L532.5,435.57 L533.5,435.75 L534.5,435.91 L535.5,436.07 L536.5,436.22 L537.5,436.36 L538.5,436.49 L539.5,436.62 L540.5,436.75 L541.5,436.86 L542.5,436.97 L543.5,437.08 L544.5,437.18 L545.5,437.27 L546.5,437.36 L547.5,437.44 L548.5,437.52 L549.5,437.59 L550.5,437.66 L551.5,437.73 L552.5,437.79 L553.5,437.84 L554.5,437.89 L555.5,437.94 L556.5,437.99 L557.5,438.03 L558.5,438.06 L559.5,438.1 L560.5,438.13 L561.5,438.15 L562.5,438.18 L563.5,438.2 L564.5,438.22 L565.5,438.23 L566.5,438.25 L567.5,438.26 L568.5,438.27 L569.5,438.28 L570.5,438.28 L571.5,438.29 L572.5,438.29 L573.5,438.3 L574.5,438.3 L575.5,438.3 L576.5,438.3 L577.5,438.3 L578.5,438.3 L579.5,438.3 L580.5,438.29 L581.5,438.29 L582.5,438.29 L583.5,438.29 L584.5,438.29 L585.5,438.29 L586.5,438.29 L587.5,438.29" fill="none" stroke="#000" stroke-width="2.6" stroke-linejoin="round"/>
<rect x="328" y="251" width="261.1" height="207.9" fill="none" stroke="#000" stroke-width="2.2"/>
<path d="M328,458.9 V455.4 M357,458.9 V455.4 M386,458.9 V455.4 M415,458.9 V455.4 M444,458.9 V455.4 M473,458.9 V455.4 M502,458.9 V455.4 M531,458.9 V455.4 M560,458.9 V455.4 M589,458.9 V455.4 M342.5,458.9 V456.9 M371.5,458.9 V456.9 M400.5,458.9 V456.9 M429.5,458.9 V456.9 M458.5,458.9 V456.9 M487.5,458.9 V456.9 M516.5,458.9 V456.9 M545.5,458.9 V456.9 M574.5,458.9 V456.9 " stroke="#000" stroke-width="1.8" fill="none"/>
<path d="M328,438.1 H331.5 M328,400.8 H331.5 M328,363.5 H331.5 M328,326.2 H331.5 M328,288.9 H331.5 M328,251.6 H331.5 M328,419.45 H330 M328,382.15 H330 M328,344.85 H330 M328,307.55 H330 M328,270.25 H330 " stroke="#000" stroke-width="1.8" fill="none"/>
<text x="328" y="474" font-size="12.3" text-anchor="middle" font-weight="bold" fill="#000">0</text>
<text x="357" y="474" font-size="12.3" text-anchor="middle" font-weight="bold" fill="#000">5</text>
<text x="386" y="474" font-size="12.3" text-anchor="middle" font-weight="bold" fill="#000">10</text>
<text x="415" y="474" font-size="12.3" text-anchor="middle" font-weight="bold" fill="#000">15</text>
<text x="444" y="474" font-size="12.3" text-anchor="middle" font-weight="bold" fill="#000">20</text>
<text x="473" y="474" font-size="12.3" text-anchor="middle" font-weight="bold" fill="#000">25</text>
<text x="502" y="474" font-size="12.3" text-anchor="middle" font-weight="bold" fill="#000">30</text>
<text x="531" y="474" font-size="12.3" text-anchor="middle" font-weight="bold" fill="#000">35</text>
<text x="560" y="474" font-size="12.3" text-anchor="middle" font-weight="bold" fill="#000">40</text>
<text x="589" y="474" font-size="12.3" text-anchor="middle" font-weight="bold" fill="#000">45</text>
<text x="323.3" y="442.4" font-size="12.7" text-anchor="end" font-weight="bold" fill="#000">0</text>
<text x="323.3" y="405.1" font-size="12.7" text-anchor="end" font-weight="bold" fill="#000">5</text>
<text x="323.3" y="367.8" font-size="12.7" text-anchor="end" font-weight="bold" fill="#000">10</text>
<text x="323.3" y="330.5" font-size="12.7" text-anchor="end" font-weight="bold" fill="#000">15</text>
<text x="323.3" y="293.2" font-size="12.7" text-anchor="end" font-weight="bold" fill="#000">20</text>
<text x="323.3" y="255.9" font-size="12.7" text-anchor="end" font-weight="bold" fill="#000">25</text>
<text x="307.2" y="358" font-size="14" text-anchor="middle" font-weight="bold" fill="#000" transform="rotate(-90 307.2 358)">Volume density (%)</text>
<text x="332.9" y="269.2" font-size="17.5" text-anchor="start" font-weight="bold" fill="#000" letter-spacing="0.8">(d)</text>
<text x="462" y="334" font-size="12" text-anchor="start" font-weight="bold" fill="#000">D50=15.6</text>
<text x="518" y="334" font-size="11.8" text-anchor="start" font-weight="bold" fill="#000">µm</text>
<text x="400.2" y="488.7" font-size="13.7" text-anchor="start" font-weight="bold" fill="#000">Particle size</text>
<text x="479" y="488.2" font-size="11.5" text-anchor="start" font-weight="normal" fill="#000">(</text>
<text x="483" y="488.7" font-size="13" text-anchor="start" font-weight="bold" fill="#000">µm</text>
<text x="503" y="488.2" font-size="11.5" text-anchor="start" font-weight="normal" fill="#000">)</text>
<path d="M35,668.37 L35.73,660.41 L36.4,656.63 L37.11,660.55 L37.6,686.41 L38.15,656.98 L38.64,668.63 L39.12,669.84 L39.65,673.88 L40.22,660.13 L40.82,656.82 L41.38,656.19 L42.1,661.05 L42.59,668.65 L43.17,661.77 L43.74,667.61 L44.22,668.42 L44.71,665.64 L45.29,659.3 L45.82,683.24 L46.6,661.98 L47.13,663.35 L47.72,669.07 L48.37,650.94 L48.84,646.85 L49.51,662.34 L50.12,686.43 L50.71,666.51 L51.22,659.81 L51.78,679.25 L52.41,674.78 L52.93,669.93 L53.63,669.87 L54.34,650.32 L55.05,663.16 L55.79,664.96 L56.43,681.56 L56.96,660.34 L57.5,673.29 L58.08,662.93 L58.82,672.9 L59.39,668.99 L60.01,663.21 L60.67,662.25 L61.42,659.35 L62.12,669.55 L62.8,655.31 L63.59,668.38 L64.35,687.97 L65.15,655.27 L65.6,653.58 L66.14,670.26 L66.77,680.9 L67.24,686.35 L67.92,668.37 L68.69,679.5 L69.43,670.23 L70.2,658 L70.69,663.2 L71.35,661.68 L71.89,662.68 L72.69,664.1 L73.47,661.51 L74.12,661 L74.75,668.3 L75.31,660.65 L76.1,668.29 L76.66,665.24 L77.25,658.86 L77.86,671.57 L78.36,673.08 L79.07,664.59 L79.62,664.62 L80.36,675.25 L80.9,651.11 L81.49,665.87 L82.28,665.38 L83.06,664.53 L83.63,651.89 L84.32,665.29 L84.91,668.65 L85.5,664.85 L86.25,652.24 L87.01,658.98 L87.77,654.34 L88.31,648.09 L88.84,657.87 L89.57,659.45 L90.13,654.74 L90.6,648.9 L91.34,660.81 L91.91,662.82 L92.65,660.91 L93.11,661.85 L93.82,669.64 L94.35,679.66 L94.91,654.87 L95.52,661.41 L96.04,659.6 L96.67,664.04 L97.21,667.73 L97.99,641.73 L98.51,650.72 L99.06,666.76 L99.61,655.57 L100.35,651.99 L101.07,684.39 L101.68,661.99 L102.31,656.98 L103.01,670.76 L103.59,646.38 L104.12,659.18 L104.84,682.24 L105.32,648.15 L105.99,661.23 L106.48,663.62 L107.13,641.55 L107.84,651.04 L108.54,651.57 L109.04,645.81 L109.83,653.39 L110.5,663.17 L111.24,652.76 L111.76,673.51 L112.3,647.01 L113.1,655.57 L113.72,654.1 L114.18,678.91 L114.84,641.93 L115.48,656.41 L115.94,637.25 L116.62,654.38 L117.26,674.13 L118.01,653.57 L118.51,640.1 L118.99,633.54 L119.59,671.3 L120.3,677.52 L120.76,665.49 L121.27,642.77 L121.83,641.39 L122.62,676.52 L123.42,642.3 L123.88,628.61 L124.6,630.04 L125.09,643.86 L125.72,641.39 L126.36,641.44 L127.15,637.74 L127.6,614.51 L128.21,622.07 L128.75,632.09 L129.29,623.38 L129.95,630.71 L130.4,630.25 L131.19,636.41 L131.67,629.98 L132.38,620.94 L132.84,633.69 L133.53,620.51 L134.03,614.39 L134.53,617.06 L135.18,616.32 L135.68,621.56 L136.4,617.38 L136.94,615.92 L137.47,614.27 L138.14,604.86 L138.88,605.04 L139.49,603.07 L140.01,594.72 L140.48,595.96 L141.09,585.95 L141.62,586.46 L142.27,613.58 L142.76,575.09 L143.39,584.18 L143.92,586.03 L144.46,548.84 L144.93,572.16 L145.5,563.88 L145.99,552.11 L146.61,569.69 L147.24,558.26 L147.85,543.77 L148.48,550.12 L149.15,552.42 L149.86,509.83 L150.44,545.48 L151.1,547.39 L151.58,541.43 L152.08,534.36 L152.79,535.78 L153.48,525.19 L154.26,517.28 L155.04,522.48 L155.84,522.75 L156.36,547.45 L156.97,523.96 L157.56,516.75 L158.25,514.99 L158.99,519.99 L159.65,509.97 L160.35,519.82 L160.88,520.9 L161.38,516.76 L162.03,527.66 L162.54,518.91 L163.15,524.12 L163.9,503.32 L164.45,513.43 L165.22,518.53 L165.67,513.6 L166.43,533.62 L167.06,526.94 L167.69,511.95 L168.23,497.77 L168.99,508.93 L169.51,531.46 L170.02,515.88 L170.56,525.19 L171.25,538.68 L171.96,527.68 L172.69,541.55 L173.3,537.63 L173.82,524.82 L174.54,535.81 L175.06,558.56 L175.85,558.92 L176.43,583.44 L177.15,563.44 L177.69,569.55 L178.19,565.81 L178.84,574.08 L179.49,572.75 L180,571.13 L180.46,587.4 L181.25,596.18 L181.99,581.72 L182.78,584.09 L183.5,593.58 L184.16,620.69 L184.91,590.39 L185.55,590.16 L186.09,589.76 L186.79,584.15 L187.32,578.2 L187.78,563.97 L188.55,588.1 L189.19,583.85 L189.78,578.88 L190.26,581.02 L190.74,577.48 L191.47,567.76 L192.04,584.06 L192.69,591.82 L193.19,561.14 L193.72,594.77 L194.45,575.49 L195.15,573.95 L195.87,586.28 L196.52,583.73 L197.04,585.48 L197.57,584.23 L198.17,579.42 L198.88,579.08 L199.43,578.28 L200.19,575.01 L200.75,584.27 L201.28,595.64 L202.02,615.48 L202.58,590.54 L203.28,596.08 L203.75,599.64 L204.25,617.47 L204.77,605.98 L205.4,686.3 L206.03,679.69 L206.62,677.22 L207.15,663.5 L207.87,696 L208.64,684.85 L209.32,654.07 L210.08,665.14 L210.64,675.94 L211.24,673.21 L212.03,672.76 L212.53,671.68 L213.16,679.71 L213.88,679.43 L214.42,682.18 L215.13,685.4 L215.91,679.42 L216.61,681.05 L217.4,673.18 L217.93,664.86 L218.43,679.4 L219.15,672.81 L219.88,678.16 L220.6,694.9 L221.16,679.97 L221.74,682.28 L222.23,669.07 L222.9,677.24 L223.68,691.5 L224.39,677.27 L224.97,684.48 L225.54,686.77 L226.29,690.63 L227,678.62 L227.75,684.88 L228.48,681.27 L229.05,670.25 L229.51,677.49 L229.98,680.19 L230.57,684.43 L231.24,695.97 L231.95,668.67 L232.43,682.2 L233.05,686.74 L233.58,691.84 L234.27,674.17 L234.93,678.93 L235.41,683.8 L235.98,675.53 L236.51,686.58 L237.09,682.46 L237.65,675.43 L238.29,679.45 L239.08,691.86 L239.59,691.41 L240.34,682.45 L240.8,692.54 L241.59,687.51 L242.09,680.11 L242.75,674.64 L243.38,677.8 L243.95,677.07 L244.49,682.52 L245.25,665.02 L245.96,678.76 L246.71,696 L247.31,663.06 L248,664.94 L248.8,675.38 L249.32,666.62 L249.87,675.34 L250.39,670.91 L251.01,687.24 L251.79,680.87 L252.29,664.86 L253.08,682.76 L253.65,681.03 L254.41,694.5 L255.11,690.86 L255.7,680.41 L256.38,681.79 L256.96,680.06 L257.65,666.5 L258.24,663.22 L258.97,671.94 L259.59,683.6 L260.23,683.57 L260.8,689.23 L261.34,683.51 L262.11,678.31 L262.84,675.38 L263.36,674.46 L263.89,674.87 L264.59,687.76 L265.37,668.39 L265.88,682.6 L266.37,677.27 L267.16,672.13 L267.62,680.01 L268.12,666.75 L268.91,686.53 L269.5,673.64 L270.3,679.57 L270.8,677.25 L271.44,686.47 L272.16,694.73 L272.82,660.78 L273.57,681.63 L274.08,677.31 L274.82,677.95 L275.54,682.68 L276.25,696 L277.02,680.54 L277.57,681.16 L278.31,679.99 L279.02,672.4 L279.77,680.2 L280.25,677.22 L280.97,686.99 L281.57,690.31 L282.05,663.76 L282.66,677.6 L283.33,663.21 L283.86,678.51 L284.63,686.49 L285.28,677.53 L286.03,686.68 L286.53,685.33 L286.99,691.29 L287.49,681.86 L288.23,672.62 L288.97,686.83 L289.59,678.08 L290.36,666.4 L290.86,668.76 L291.36,692.59 L291.9,680.53 L292.57,678.68 L293.2,680.84 L293.97,683.16" fill="none" stroke="#4a4a4a" stroke-width="1.2" stroke-linejoin="round"/>
<path d="M34.5,654.6 C37.92,654.45 48,654.08 55,653.7 C62,653.32 69.03,653.15 76.5,652.3 C83.97,651.45 93.22,650.22 99.8,648.6 C106.38,646.98 111.38,645.03 116,642.6 C120.62,640.17 124.55,637.02 127.5,634 C130.45,630.98 131.95,627.92 133.7,624.5 C135.45,621.08 136.57,617.67 138,613.5 C139.43,609.33 140.67,607 142.3,599.5 C143.93,592 146.27,576.92 147.8,568.5 C149.33,560.08 150.33,555.08 151.5,549 C152.67,542.92 153.72,536.92 154.8,532 C155.88,527.08 156.95,522.28 158,519.5 C159.05,516.72 160.07,515.3 161.1,515.3 C162.13,515.3 163.05,515.88 164.2,519.5 C165.35,523.12 166.78,531.08 168,537 C169.22,542.92 170.38,549.33 171.5,555 C172.62,560.67 173.7,565.83 174.7,571 C175.7,576.17 176.62,581.83 177.5,586 C178.38,590.17 179.17,593.58 180,596 C180.83,598.42 181.58,600.33 182.5,600.5 C183.42,600.67 184.48,599.5 185.5,597 C186.52,594.5 187.68,588.58 188.6,585.5 C189.52,582.42 190.27,579.95 191,578.5 C191.73,577.05 192.25,576.55 193,576.8 C193.75,577.05 194.73,578.13 195.5,580 C196.27,581.87 196.93,584.5 197.6,588 C198.27,591.5 198.83,595.37 199.5,601 C200.17,606.63 200.7,615.07 201.6,621.8 C202.5,628.53 203.63,635.95 204.9,641.4 C206.17,646.85 207.75,651.23 209.2,654.5 C210.65,657.77 211.97,659.18 213.6,661 C215.23,662.82 215.93,663.85 219,665.4 C222.07,666.95 224.5,668.95 232,670.3 C239.5,671.65 253.67,672.68 264,673.5 C274.33,674.32 289,674.92 294,675.2" fill="none" stroke="#e23434" stroke-width="2.2" />
<path d="M34.5,654.9 C37.92,654.75 48,654.38 55,654 C62,653.62 69.03,653.43 76.5,652.6 C83.97,651.77 93.22,650.6 99.8,649 C106.38,647.4 111.38,645.42 116,643 C120.62,640.58 124.55,637.5 127.5,634.5 C130.45,631.5 131.95,628.42 133.7,625 C135.45,621.58 136.57,618.17 138,614 C139.43,609.83 140.67,607.33 142.3,600 C143.93,592.67 146.27,578 147.8,570 C149.33,562 150.33,557.67 151.5,552 C152.67,546.33 153.72,540.75 154.8,536 C155.88,531.25 156.97,526.43 158,523.5 C159.03,520.57 160,518.48 161,518.4 C162,518.32 163,519.57 164,523 C165,526.43 166,533.33 167,539 C168,544.67 169,550.83 170,557 C171,563.17 171.92,569.17 173,576 C174.08,582.83 175.55,592.18 176.5,598 C177.45,603.82 177.88,606.4 178.7,610.9 C179.52,615.4 180.4,620.65 181.4,625 C182.4,629.35 183.52,633.53 184.7,637 C185.88,640.47 186.95,642.88 188.5,645.8 C190.05,648.72 192,651.78 194,654.5 C196,657.22 198.33,659.93 200.5,662.1 C202.67,664.27 204.82,666.13 207,667.5 C209.18,668.87 210.6,669.47 213.6,670.3 C216.6,671.13 220.6,671.97 225,672.5 C229.4,673.03 228.5,673.02 240,673.5 C251.5,673.98 285,675.08 294,675.4" fill="none" stroke="#2fa55c" stroke-width="2" />
<path d="M34.5,656.5 C42.08,656.5 62.92,656.5 80,656.5 C97.08,656.5 126.33,656.17 137,656.5 C147.67,656.83 141.67,657.53 144,658.5 C146.33,659.47 148.33,661.18 151,662.3 C153.67,663.42 156.83,664.23 160,665.2 C163.17,666.17 166.52,666.98 170,668.1 C173.48,669.22 177.27,670.72 180.9,671.9 C184.53,673.08 188.17,674.3 191.8,675.2 C195.43,676.1 199.98,676.85 202.7,677.3 C205.42,677.75 203.55,677.78 208.1,677.9 C212.65,678.02 215.68,678.02 230,678 C244.32,677.98 283.33,677.83 294,677.8" fill="none" stroke="#1e67d2" stroke-width="2" />
<path d="M34.5,656.5 C42.08,656.5 62.92,656.53 80,656.5 C97.08,656.47 126.17,656.17 137,656.3 C147.83,656.43 142.33,656.77 145,657.3 C147.67,657.83 150.5,658.97 153,659.5 C155.5,660.03 158,660.32 160,660.5 C162,660.68 163.33,660.72 165,660.6 C166.67,660.48 168.08,660.63 170,659.8 C171.92,658.97 174.68,657.93 176.5,655.6 C178.32,653.27 179.62,649.25 180.9,645.8 C182.18,642.35 183.12,639.45 184.2,634.9 C185.28,630.35 186.32,623.58 187.4,618.5 C188.48,613.42 189.68,607.9 190.7,604.4 C191.72,600.9 192.6,597.33 193.5,597.5 C194.4,597.67 195.2,601.35 196.1,605.4 C197,609.45 197.98,616.7 198.9,621.8 C199.82,626.9 200.6,631.47 201.6,636 C202.6,640.53 203.63,644.65 204.9,649 C206.17,653.35 207.75,658.83 209.2,662.1 C210.65,665.37 211.97,666.97 213.6,668.6 C215.23,670.23 215.93,670.83 219,671.9 C222.07,672.97 219.5,674.07 232,675 C244.5,675.93 283.67,677.08 294,677.5" fill="none" stroke="#b06ee0" stroke-width="2" />
<rect x="34.1" y="489.1" width="260.6" height="209.5" fill="none" stroke="#000" stroke-width="2.2"/>
<path d="M34,698.6 V695.1 M60.1,698.6 V695.1 M86.2,698.6 V695.1 M112.3,698.6 V695.1 M138.4,698.6 V695.1 M164.5,698.6 V695.1 M190.6,698.6 V695.1 M216.7,698.6 V695.1 M242.8,698.6 V695.1 M268.9,698.6 V695.1 M295,698.6 V695.1 M47.05,698.6 V696.6 M73.15,698.6 V696.6 M99.25,698.6 V696.6 M125.35,698.6 V696.6 M151.45,698.6 V696.6 M177.55,698.6 V696.6 M203.65,698.6 V696.6 M229.75,698.6 V696.6 M255.85,698.6 V696.6 M281.95,698.6 V696.6 " stroke="#000" stroke-width="1.8" fill="none"/>
<text x="34" y="713.4" font-size="12" text-anchor="middle" font-weight="bold" fill="#000">112</text>
<text x="60.1" y="713.4" font-size="12" text-anchor="middle" font-weight="bold" fill="#000">110</text>
<text x="86.2" y="713.4" font-size="12" text-anchor="middle" font-weight="bold" fill="#000">108</text>
<text x="112.3" y="713.4" font-size="12" text-anchor="middle" font-weight="bold" fill="#000">106</text>
<text x="138.4" y="713.4" font-size="12" text-anchor="middle" font-weight="bold" fill="#000">104</text>
<text x="164.5" y="713.4" font-size="12" text-anchor="middle" font-weight="bold" fill="#000">102</text>
<text x="190.6" y="713.4" font-size="12" text-anchor="middle" font-weight="bold" fill="#000">100</text>
<text x="216.7" y="713.4" font-size="12" text-anchor="middle" font-weight="bold" fill="#000">98</text>
<text x="242.8" y="713.4" font-size="12" text-anchor="middle" font-weight="bold" fill="#000">96</text>
<text x="268.9" y="713.4" font-size="12" text-anchor="middle" font-weight="bold" fill="#000">94</text>
<text x="295" y="713.4" font-size="12" text-anchor="middle" font-weight="bold" fill="#000">92</text>
<text x="168" y="726.7" font-size="14.7" text-anchor="middle" font-weight="bold" fill="#000">Binding energy (eV)</text>
<text x="24" y="598.5" font-size="16" text-anchor="middle" font-weight="bold" fill="#000" transform="rotate(-90 24 598.5)">Intensity (a.u.)</text>
<text x="38.7" y="508" font-size="17.5" text-anchor="start" font-weight="bold" fill="#000" letter-spacing="0.8">(e)</text>
<path d="M343,681 L348.8,678 L354.5,676.2 L358.5,675 L364.5,674 L369,674.5 L376.5,671.5 L382.5,669.9 L388,669.9 L394.1,668.5 L399.9,667.9 L406.1,666.5 L411.9,666.2 L418.5,665.2 L423.5,663.6 L435.6,662.4 L447.3,659.9 L459.6,658 L470.9,655.4 L482.4,653 L494.6,650.6 L506.8,645.8 L518.2,642.6 L530,638.2 L535.7,635.6 L542.2,631.6 L548.1,627.2 L554.3,622.4 L560.1,615.2 L565.8,604.6 L571.1,586 L573.2,575.4 L575.5,558.3 L576.8,543.3" fill="none" stroke="#000" stroke-width="1.5"/>
<path d="M447.3,659.9 L459.6,652.9 L471,650.2 L482.4,647 L494.6,644.3 L506.8,640.1 L518.6,636.1 L531.2,630.8 L537.8,627.3 L543.6,624.3 L549.8,619.3 L555.7,613.1 L561.9,603.5 L568.4,589.7 L572.3,572.1 L575.5,558.3 L576.8,543.3" fill="none" stroke="#000" stroke-width="1.5"/>
<circle cx="343" cy="681" r="2.5"/>
<circle cx="348.8" cy="678" r="2.5"/>
<circle cx="354.5" cy="676.2" r="2.5"/>
<circle cx="358.5" cy="675" r="2.5"/>
<circle cx="364.5" cy="674" r="2.5"/>
<circle cx="369" cy="674.5" r="2.5"/>
<circle cx="376.5" cy="671.5" r="2.5"/>
<circle cx="382.5" cy="669.9" r="2.5"/>
<circle cx="388" cy="669.9" r="2.5"/>
<circle cx="394.1" cy="668.5" r="2.5"/>
<circle cx="399.9" cy="667.9" r="2.5"/>
<circle cx="406.1" cy="666.5" r="2.5"/>
<circle cx="411.9" cy="666.2" r="2.5"/>
<circle cx="418.5" cy="665.2" r="2.5"/>
<circle cx="423.5" cy="663.6" r="2.5"/>
<circle cx="435.6" cy="662.4" r="2.5"/>
<circle cx="447.3" cy="659.9" r="2.5"/>
<circle cx="459.6" cy="658" r="2.5"/>
<circle cx="470.9" cy="655.4" r="2.5"/>
<circle cx="482.4" cy="653" r="2.5"/>
<circle cx="494.6" cy="650.6" r="2.5"/>
<circle cx="506.8" cy="645.8" r="2.5"/>
<circle cx="518.2" cy="642.6" r="2.5"/>
<circle cx="530" cy="638.2" r="2.5"/>
<circle cx="535.7" cy="635.6" r="2.5"/>
<circle cx="542.2" cy="631.6" r="2.5"/>
<circle cx="548.1" cy="627.2" r="2.5"/>
<circle cx="554.3" cy="622.4" r="2.5"/>
<circle cx="560.1" cy="615.2" r="2.5"/>
<circle cx="565.8" cy="604.6" r="2.5"/>
<circle cx="571.1" cy="586" r="2.5"/>
<circle cx="573.2" cy="575.4" r="2.5"/>
<circle cx="575.5" cy="558.3" r="2.5"/>
<circle cx="576.8" cy="543.3" r="2.5"/>
<circle cx="459.6" cy="652.9" r="2.5"/>
<circle cx="471" cy="650.2" r="2.5"/>
<circle cx="482.4" cy="647" r="2.5"/>
<circle cx="494.6" cy="644.3" r="2.5"/>
<circle cx="506.8" cy="640.1" r="2.5"/>
<circle cx="518.6" cy="636.1" r="2.5"/>
<circle cx="531.2" cy="630.8" r="2.5"/>
<circle cx="537.8" cy="627.3" r="2.5"/>
<circle cx="543.6" cy="624.3" r="2.5"/>
<circle cx="549.8" cy="619.3" r="2.5"/>
<circle cx="555.7" cy="613.1" r="2.5"/>
<circle cx="561.9" cy="603.5" r="2.5"/>
<circle cx="568.4" cy="589.7" r="2.5"/>
<circle cx="572.3" cy="572.1" r="2.5"/>
<rect x="329" y="491.7" width="260.7" height="209.7" fill="none" stroke="#000" stroke-width="2.2"/>
<path d="M340,701.4 V697.9 M388,701.4 V697.9 M436,701.4 V697.9 M484,701.4 V697.9 M532,701.4 V697.9 M580,701.4 V697.9 M364,701.4 V699.4 M412,701.4 V699.4 M460,701.4 V699.4 M508,701.4 V699.4 M556,701.4 V699.4 " stroke="#000" stroke-width="1.8" fill="none"/>
<path d="M329,691.5 H332.5 M329,651.5 H332.5 M329,611.5 H332.5 M329,571.5 H332.5 M329,531.5 H332.5 M329,491.5 H332.5 M329,671.5 H331 M329,631.5 H331 M329,591.5 H331 M329,551.5 H331 M329,511.5 H331 " stroke="#000" stroke-width="1.8" fill="none"/>
<text x="340" y="716.5" font-size="11.8" text-anchor="middle" font-weight="bold" fill="#000">0.0</text>
<text x="388" y="716.5" font-size="11.8" text-anchor="middle" font-weight="bold" fill="#000">0.2</text>
<text x="436" y="716.5" font-size="11.8" text-anchor="middle" font-weight="bold" fill="#000">0.4</text>
<text x="484" y="716.5" font-size="11.8" text-anchor="middle" font-weight="bold" fill="#000">0.6</text>
<text x="532" y="716.5" font-size="11.8" text-anchor="middle" font-weight="bold" fill="#000">0.8</text>
<text x="580" y="716.5" font-size="11.8" text-anchor="middle" font-weight="bold" fill="#000">1.0</text>
<text x="325" y="695.5" font-size="12" text-anchor="end" font-weight="bold" fill="#000">0</text>
<text x="325" y="655.5" font-size="12" text-anchor="end" font-weight="bold" fill="#000">1</text>
<text x="325" y="615.5" font-size="12" text-anchor="end" font-weight="bold" fill="#000">2</text>
<text x="325" y="575.5" font-size="12" text-anchor="end" font-weight="bold" fill="#000">3</text>
<text x="325" y="535.5" font-size="12" text-anchor="end" font-weight="bold" fill="#000">4</text>
<text x="325" y="495.5" font-size="12" text-anchor="end" font-weight="bold" fill="#000">5</text>
<text x="459" y="729.3" font-size="14.95" text-anchor="middle" font-weight="bold" fill="#000">Relative Pressure (P/P<tspan font-size="11" dy="2.5">0</tspan><tspan dy="-2.5">)</tspan></text>
<text x="312" y="594.5" font-size="15" text-anchor="middle" font-weight="bold" fill="#000" transform="rotate(-90 312 594.5)">Quantity Adsorbed (cm<tspan font-size="9" dy="-5">3</tspan><tspan dy="5">/g)</tspan></text>
<text x="332.7" y="507.7" font-size="17.5" text-anchor="start" font-weight="bold" fill="#000" letter-spacing="0.8">(f)</text>
<path d="M390,608.49 L392.9,605.82 L395.07,601.53 L397.25,600.14 L399.43,600.37 L402.32,596.67 L405.23,525.04 L408.12,514.61 L412.48,574.64 L417.91,579.51 L424.44,582.99 L432.77,583.57 L444.74,583.8 L454.52,584.61 L460.32,584.61 L473.74,583.22 L490.77,582.99 L516.15,581.83" fill="none" stroke="#000" stroke-width="1"/>
<circle cx="390" cy="608.49" r="1.8"/>
<circle cx="392.9" cy="605.82" r="1.8"/>
<circle cx="395.07" cy="601.53" r="1.8"/>
<circle cx="397.25" cy="600.14" r="1.8"/>
<circle cx="399.43" cy="600.37" r="1.8"/>
<circle cx="402.32" cy="596.67" r="1.8"/>
<circle cx="405.23" cy="525.04" r="1.8"/>
<circle cx="408.12" cy="514.61" r="1.8"/>
<circle cx="412.48" cy="574.64" r="1.8"/>
<circle cx="417.91" cy="579.51" r="1.8"/>
<circle cx="424.44" cy="582.99" r="1.8"/>
<circle cx="432.77" cy="583.57" r="1.8"/>
<circle cx="444.74" cy="583.8" r="1.8"/>
<circle cx="454.52" cy="584.61" r="1.8"/>
<circle cx="460.32" cy="584.61" r="1.8"/>
<circle cx="473.74" cy="583.22" r="1.8"/>
<circle cx="490.77" cy="582.99" r="1.8"/>
<circle cx="516.15" cy="581.83" r="1.8"/>
<rect x="382.6" y="500.7" width="137.2" height="116" fill="none" stroke="#000" stroke-width="1.1"/>
<path d="M390,616.6 V614.6 M404.5,616.6 V614.6 M419,616.6 V614.6 M433.5,616.6 V614.6 M448,616.6 V614.6 M462.5,616.6 V614.6 M477,616.6 V614.6 M491.5,616.6 V614.6 M506,616.6 V614.6 M520.5,616.6 V614.6 M397.25,616.6 V615.4 M411.75,616.6 V615.4 M426.25,616.6 V615.4 M440.75,616.6 V615.4 M455.25,616.6 V615.4 M469.75,616.6 V615.4 M484.25,616.6 V615.4 M498.75,616.6 V615.4 M513.25,616.6 V615.4 M382.6,616.6 H384.6 M382.6,605.01 H383.8 M382.6,593.42 H384.6 M382.6,581.83 H383.8 M382.6,570.24 H384.6 M382.6,558.65 H383.8 M382.6,547.06 H384.6 M382.6,535.47 H383.8 M382.6,523.88 H384.6 M382.6,512.29 H383.8 M382.6,500.7 H384.6 " stroke="#000" stroke-width="0.9" fill="none"/>
<text x="390" y="625.8" font-size="6.2" text-anchor="middle" font-weight="bold" fill="#000">20</text>
<text x="404.5" y="625.8" font-size="6.2" text-anchor="middle" font-weight="bold" fill="#000">40</text>
<text x="419" y="625.8" font-size="6.2" text-anchor="middle" font-weight="bold" fill="#000">60</text>
<text x="433.5" y="625.8" font-size="6.2" text-anchor="middle" font-weight="bold" fill="#000">80</text>
<text x="448" y="625.8" font-size="6.2" text-anchor="middle" font-weight="bold" fill="#000">100</text>
<text x="462.5" y="625.8" font-size="6.2" text-anchor="middle" font-weight="bold" fill="#000">120</text>
<text x="477" y="625.8" font-size="6.2" text-anchor="middle" font-weight="bold" fill="#000">140</text>
<text x="491.5" y="625.8" font-size="6.2" text-anchor="middle" font-weight="bold" fill="#000">160</text>
<text x="506" y="625.8" font-size="6.2" text-anchor="middle" font-weight="bold" fill="#000">180</text>
<text x="520.5" y="625.8" font-size="6.2" text-anchor="middle" font-weight="bold" fill="#000">200</text>
<text x="380.6" y="618.6" font-size="6.2" text-anchor="end" font-weight="bold" fill="#000">0.000</text>
<text x="380.6" y="595.42" font-size="6.2" text-anchor="end" font-weight="bold" fill="#000">0.002</text>
<text x="380.6" y="572.24" font-size="6.2" text-anchor="end" font-weight="bold" fill="#000">0.004</text>
<text x="380.6" y="549.06" font-size="6.2" text-anchor="end" font-weight="bold" fill="#000">0.006</text>
<text x="380.6" y="525.88" font-size="6.2" text-anchor="end" font-weight="bold" fill="#000">0.008</text>
<text x="380.6" y="502.7" font-size="6.2" text-anchor="end" font-weight="bold" fill="#000">0.010</text>
<text x="448" y="633.4" font-size="7.8" text-anchor="middle" font-weight="bold" fill="#000">Pore Diameter (Å)</text>
<text x="363.6" y="558.5" font-size="7.2" text-anchor="middle" font-weight="bold" fill="#111" transform="rotate(-90 363.6 558.5)" letter-spacing="0.38">dV/dlog(D) Pore Volume (cm<tspan font-size="5" dy="-3">3</tspan><tspan dy="3">/g)</tspan></text>
</svg></body></html>
